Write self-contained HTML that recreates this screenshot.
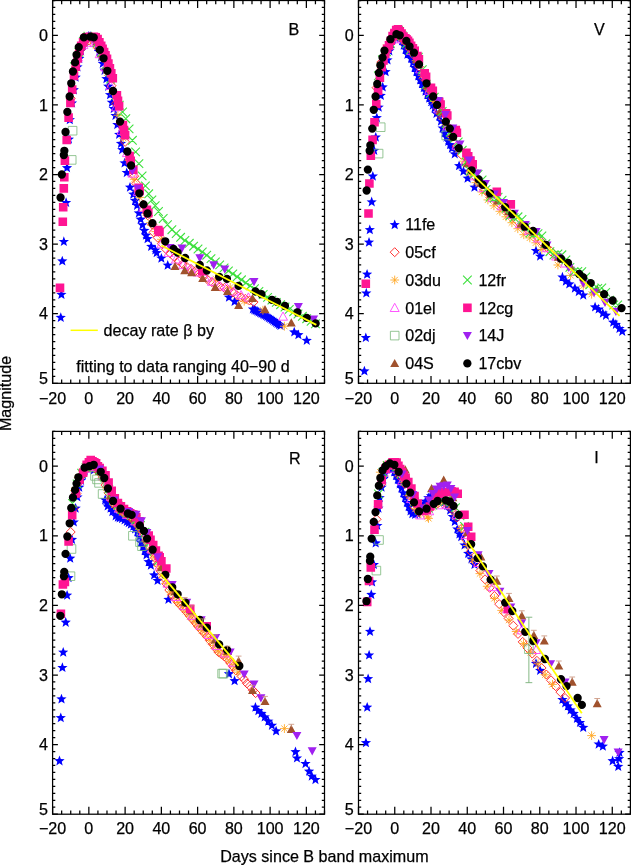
<!DOCTYPE html>
<html><head><meta charset="utf-8"><style>html,body{margin:0;padding:0;background:#fff;width:631px;height:865px;overflow:hidden}svg{display:block;will-change:transform}</style></head>
<body><svg width="631" height="865" viewBox="0 0 631 865"><clipPath id="cB"><rect x="52.60" y="0.50" width="271.90" height="382.80"/></clipPath>
<g clip-path="url(#cB)">
<path fill="#0000ff" d="M60.8,312.2 62.1,315.7 65.9,315.9 62.9,318.3 63.9,321.9 60.8,319.9 57.6,321.9 58.6,318.3 55.6,315.9 59.4,315.7ZM61.4,289.2 62.7,292.8 66.5,292.9 63.6,295.3 64.6,299.0 61.4,296.9 58.2,299.0 59.2,295.3 56.3,292.9 60.0,292.8ZM62.3,255.8 63.6,259.3 67.4,259.5 64.5,261.9 65.5,265.6 62.3,263.5 59.1,265.6 60.1,261.9 57.2,259.5 60.9,259.3ZM63.8,236.3 65.2,239.9 69.0,240.0 66.0,242.4 67.0,246.1 63.8,244.0 60.7,246.1 61.7,242.4 58.7,240.0 62.5,239.9ZM66.1,197.3 67.5,200.9 71.2,201.1 68.3,203.5 69.3,207.1 66.1,205.0 62.9,207.1 63.9,203.5 61.0,201.1 64.8,200.9ZM67.0,162.5 68.4,166.1 72.1,166.3 69.2,168.7 70.2,172.3 67.0,170.2 63.8,172.3 64.8,168.7 61.9,166.3 65.7,166.1ZM68.9,134.0 70.3,137.5 74.0,137.7 71.1,140.1 72.1,143.8 68.9,141.7 65.7,143.8 66.7,140.1 63.8,137.7 67.6,137.5ZM69.8,114.5 71.2,118.1 75.0,118.2 72.0,120.6 73.0,124.3 69.8,122.2 66.6,124.3 67.6,120.6 64.7,118.2 68.5,118.1ZM72.0,97.8 73.3,101.4 77.1,101.5 74.2,103.9 75.2,107.6 72.0,105.5 68.8,107.6 69.8,103.9 66.9,101.5 70.6,101.4ZM73.8,84.6 75.2,88.1 78.9,88.3 76.0,90.7 77.0,94.4 73.8,92.3 70.6,94.4 71.6,90.7 68.7,88.3 72.5,88.1ZM75.6,72.1 77.0,75.6 80.8,75.8 77.8,78.2 78.8,81.8 75.6,79.8 72.4,81.8 73.4,78.2 70.5,75.8 74.3,75.6ZM77.4,61.6 78.8,65.2 82.6,65.4 79.6,67.7 80.6,71.4 77.4,69.3 74.3,71.4 75.2,67.7 72.3,65.4 76.1,65.2ZM79.2,53.3 80.6,56.8 84.4,57.0 81.4,59.4 82.4,63.0 79.2,61.0 76.1,63.0 77.1,59.4 74.1,57.0 77.9,56.8ZM81.1,45.6 82.4,49.2 86.2,49.3 83.2,51.7 84.2,55.4 81.1,53.3 77.9,55.4 78.9,51.7 75.9,49.3 79.7,49.2ZM82.9,39.3 84.2,42.9 88.0,43.1 85.1,45.5 86.0,49.1 82.9,47.0 79.7,49.1 80.7,45.5 77.7,43.1 81.5,42.9ZM84.7,35.2 86.0,38.7 89.8,38.9 86.9,41.3 87.9,44.9 84.7,42.9 81.5,44.9 82.5,41.3 79.5,38.9 83.3,38.7ZM86.5,32.4 87.8,35.9 91.6,36.1 88.7,38.5 89.7,42.2 86.5,40.1 83.3,42.2 84.3,38.5 81.4,36.1 85.1,35.9ZM88.3,31.0 89.7,34.5 93.4,34.7 90.5,37.1 91.5,40.8 88.3,38.7 85.1,40.8 86.1,37.1 83.2,34.7 87.0,34.5ZM90.1,31.0 91.5,34.5 95.3,34.7 92.3,37.1 93.3,40.8 90.1,38.7 86.9,40.8 87.9,37.1 85.0,34.7 88.8,34.5ZM91.9,32.4 93.3,35.9 97.1,36.1 94.1,38.5 95.1,42.2 91.9,40.1 88.8,42.2 89.7,38.5 86.8,36.1 90.6,35.9ZM93.7,34.5 95.1,38.0 98.9,38.2 95.9,40.6 96.9,44.2 93.7,42.2 90.6,44.2 91.6,40.6 88.6,38.2 92.4,38.0ZM95.6,37.3 96.9,40.8 100.7,41.0 97.7,43.4 98.7,47.0 95.6,45.0 92.4,47.0 93.4,43.4 90.4,41.0 94.2,40.8ZM97.4,41.4 98.7,45.0 102.5,45.2 99.6,47.5 100.5,51.2 97.4,49.1 94.2,51.2 95.2,47.5 92.2,45.2 96.0,45.0ZM99.2,46.3 100.5,49.8 104.3,50.0 101.4,52.4 102.4,56.1 99.2,54.0 96.0,56.1 97.0,52.4 94.0,50.0 97.8,49.8ZM101.0,51.9 102.4,55.4 106.1,55.6 103.2,58.0 104.2,61.6 101.0,59.6 97.8,61.6 98.8,58.0 95.9,55.6 99.6,55.4ZM102.8,58.1 104.2,61.7 107.9,61.9 105.0,64.3 106.0,67.9 102.8,65.8 99.6,67.9 100.6,64.3 97.7,61.9 101.5,61.7ZM104.6,65.1 106.0,68.6 109.8,68.8 106.8,71.2 107.8,74.9 104.6,72.8 101.4,74.9 102.4,71.2 99.5,68.8 103.3,68.6ZM106.4,73.5 107.8,77.0 111.6,77.2 108.6,79.6 109.6,83.2 106.4,81.2 103.3,83.2 104.2,79.6 101.3,77.2 105.1,77.0ZM108.2,81.1 109.6,84.6 113.4,84.8 110.4,87.2 111.4,90.9 108.2,88.8 105.1,90.9 106.1,87.2 103.1,84.8 106.9,84.6ZM110.1,89.5 111.4,93.0 115.2,93.2 112.2,95.6 113.2,99.2 110.1,97.2 106.9,99.2 107.9,95.6 104.9,93.2 108.7,93.0ZM111.9,97.1 113.2,100.7 117.0,100.8 114.1,103.2 115.0,106.9 111.9,104.8 108.7,106.9 109.7,103.2 106.7,100.8 110.5,100.7ZM113.7,103.4 115.0,106.9 118.8,107.1 115.9,109.5 116.9,113.1 113.7,111.1 110.5,113.1 111.5,109.5 108.6,107.1 112.3,106.9ZM115.5,110.3 116.9,113.9 120.6,114.1 117.7,116.5 118.7,120.1 115.5,118.0 112.3,120.1 113.3,116.5 110.4,114.1 114.1,113.9ZM117.3,119.4 118.7,122.9 122.4,123.1 119.5,125.5 120.5,129.2 117.3,127.1 114.1,129.2 115.1,125.5 112.2,123.1 116.0,122.9ZM119.1,129.1 120.5,132.7 124.3,132.9 121.3,135.2 122.3,138.9 119.1,136.8 116.0,138.9 116.9,135.2 114.0,132.9 117.8,132.7ZM120.9,138.2 122.3,141.7 126.1,141.9 123.1,144.3 124.1,147.9 120.9,145.9 117.8,147.9 118.8,144.3 115.8,141.9 119.6,141.7ZM122.2,144.4 123.6,148.0 127.3,148.2 124.4,150.6 125.4,154.2 122.2,152.1 119.0,154.2 120.0,150.6 117.1,148.2 120.9,148.0ZM124.6,157.7 125.9,161.2 129.7,161.4 126.8,163.8 127.7,167.4 124.6,165.4 121.4,167.4 122.4,163.8 119.4,161.4 123.2,161.2ZM126.7,167.4 128.1,171.0 131.9,171.1 128.9,173.5 129.9,177.2 126.7,175.1 123.6,177.2 124.6,173.5 121.6,171.1 125.4,171.0ZM130.0,182.0 131.4,185.6 135.1,185.8 132.2,188.1 133.2,191.8 130.0,189.7 126.8,191.8 127.8,188.1 124.9,185.8 128.6,185.6ZM133.3,189.0 134.6,192.5 138.4,192.7 135.5,195.1 136.4,198.8 133.3,196.7 130.1,198.8 131.1,195.1 128.1,192.7 131.9,192.5ZM135.1,195.3 136.4,198.8 140.2,199.0 137.3,201.4 138.3,205.0 135.1,203.0 131.9,205.0 132.9,201.4 129.9,199.0 133.7,198.8ZM137.1,200.1 138.4,203.7 142.2,203.9 139.3,206.2 140.2,209.9 137.1,207.8 133.9,209.9 134.9,206.2 131.9,203.9 135.7,203.7ZM138.9,207.8 140.2,211.3 144.0,211.5 141.1,213.9 142.1,217.5 138.9,215.5 135.7,217.5 136.7,213.9 133.7,211.5 137.5,211.3ZM140.7,214.0 142.0,217.6 145.8,217.8 142.9,220.2 143.9,223.8 140.7,221.7 137.5,223.8 138.5,220.2 135.6,217.8 139.3,217.6ZM142.5,219.6 143.9,223.2 147.6,223.3 144.7,225.7 145.7,229.4 142.5,227.3 139.3,229.4 140.3,225.7 137.4,223.3 141.2,223.2ZM144.3,225.2 145.7,228.7 149.5,228.9 146.5,231.3 147.5,234.9 144.3,232.9 141.1,234.9 142.1,231.3 139.2,228.9 143.0,228.7ZM146.0,230.1 147.3,233.6 151.1,233.8 148.1,236.2 149.1,239.8 146.0,237.8 142.8,239.8 143.8,236.2 140.8,233.8 144.6,233.6ZM147.6,233.5 148.9,237.1 152.7,237.3 149.8,239.6 150.8,243.3 147.6,241.2 144.4,243.3 145.4,239.6 142.4,237.3 146.2,237.1ZM151.2,241.2 152.6,244.7 156.3,244.9 153.4,247.3 154.4,251.0 151.2,248.9 148.0,251.0 149.0,247.3 146.1,244.9 149.9,244.7ZM155.4,244.7 156.7,248.2 160.5,248.4 157.6,250.8 158.6,254.4 155.4,252.4 152.2,254.4 153.2,250.8 150.2,248.4 154.0,248.2ZM156.6,247.5 158.0,251.0 161.8,251.2 158.8,253.6 159.8,257.2 156.6,255.2 153.5,257.2 154.5,253.6 151.5,251.2 155.3,251.0ZM161.4,253.0 162.7,256.6 166.5,256.8 163.5,259.1 164.5,262.8 161.4,260.7 158.2,262.8 159.2,259.1 156.2,256.8 160.0,256.6ZM167.7,260.0 169.1,263.5 172.8,263.7 169.9,266.1 170.9,269.7 167.7,267.7 164.5,269.7 165.5,266.1 162.6,263.7 166.4,263.5ZM229.0,292.0 230.3,295.5 234.1,295.7 231.2,298.1 232.1,301.8 229.0,299.7 225.8,301.8 226.8,298.1 223.8,295.7 227.6,295.5ZM234.6,296.2 235.9,299.7 239.7,299.9 236.8,302.3 237.8,305.9 234.6,303.9 231.4,305.9 232.4,302.3 229.5,299.9 233.2,299.7ZM252.9,303.8 254.3,307.4 258.0,307.6 255.1,309.9 256.1,313.6 252.9,311.5 249.7,313.6 250.7,309.9 247.8,307.6 251.5,307.4ZM254.3,304.6 255.7,308.1 259.5,308.3 256.5,310.7 257.5,314.4 254.3,312.3 251.2,314.4 252.2,310.7 249.2,308.3 253.0,308.1ZM255.8,305.3 257.2,308.8 260.9,309.0 258.0,311.4 259.0,315.1 255.8,313.0 252.6,315.1 253.6,311.4 250.7,309.0 254.4,308.8ZM257.3,306.1 258.6,309.6 262.4,309.8 259.4,312.2 260.4,315.8 257.3,313.8 254.1,315.8 255.1,312.2 252.1,309.8 255.9,309.6ZM258.7,306.8 260.1,310.4 263.8,310.6 260.9,312.9 261.9,316.6 258.7,314.5 255.5,316.6 256.5,312.9 253.6,310.6 257.3,310.4ZM260.2,307.5 261.5,311.1 265.3,311.2 262.3,313.6 263.3,317.3 260.2,315.2 257.0,317.3 258.0,313.6 255.0,311.2 258.8,311.1ZM261.6,308.3 263.0,311.8 266.7,312.0 263.8,314.4 264.8,318.1 261.6,316.0 258.4,318.1 259.4,314.4 256.5,312.0 260.2,311.8ZM263.1,309.0 264.4,312.6 268.2,312.8 265.2,315.2 266.2,318.8 263.1,316.7 259.9,318.8 260.9,315.2 257.9,312.8 261.7,312.6ZM264.5,309.7 265.9,313.3 269.6,313.5 266.7,315.9 267.7,319.5 264.5,317.4 261.3,319.5 262.3,315.9 259.4,313.5 263.1,313.3ZM266.0,310.5 267.3,314.0 271.1,314.2 268.1,316.6 269.1,320.3 266.0,318.2 262.8,320.3 263.8,316.6 260.8,314.2 264.6,314.0ZM267.4,311.4 268.8,315.0 272.5,315.1 269.6,317.5 270.6,321.2 267.4,319.1 264.2,321.2 265.2,317.5 262.3,315.1 266.0,315.0ZM268.9,312.4 270.2,315.9 274.0,316.1 271.0,318.5 272.0,322.2 268.9,320.1 265.7,322.2 266.7,318.5 263.7,316.1 267.5,315.9ZM270.3,313.4 271.7,316.9 275.4,317.1 272.5,319.5 273.5,323.1 270.3,321.1 267.1,323.1 268.1,319.5 265.2,317.1 268.9,316.9ZM271.8,314.3 273.1,317.9 276.9,318.1 273.9,320.4 274.9,324.1 271.8,322.0 268.6,324.1 269.6,320.4 266.6,318.1 270.4,317.9ZM273.2,315.3 274.6,318.9 278.3,319.0 275.4,321.4 276.4,325.1 273.2,323.0 270.0,325.1 271.0,321.4 268.1,319.0 271.8,318.9ZM274.7,316.3 276.0,319.8 279.8,320.0 276.8,322.4 277.8,326.1 274.7,324.0 271.5,326.1 272.5,322.4 269.5,320.0 273.3,319.8ZM276.1,317.3 277.5,320.8 281.2,321.0 278.3,323.4 279.3,327.0 276.1,325.0 272.9,327.0 273.9,323.4 271.0,321.0 274.7,320.8ZM277.6,318.2 278.9,321.8 282.7,322.0 279.7,324.3 280.7,328.0 277.6,325.9 274.4,328.0 275.4,324.3 272.4,322.0 276.2,321.8ZM279.0,319.2 280.4,322.7 284.1,322.9 281.2,325.3 282.2,329.0 279.0,326.9 275.8,329.0 276.8,325.3 273.9,322.9 277.7,322.7ZM280.5,320.2 281.8,323.7 285.6,323.9 282.6,326.3 283.6,330.0 280.5,327.9 277.3,330.0 278.3,326.3 275.3,323.9 279.1,323.7ZM294.2,326.8 295.6,330.3 299.4,330.5 296.4,332.9 297.4,336.6 294.2,334.5 291.1,336.6 292.0,332.9 289.1,330.5 292.9,330.3ZM298.4,329.6 299.7,333.1 303.5,333.3 300.6,335.7 301.6,339.3 298.4,337.3 295.2,339.3 296.2,335.7 293.3,333.3 297.0,333.1ZM306.7,335.1 308.1,338.7 311.9,338.9 308.9,341.3 309.9,344.9 306.7,342.8 303.6,344.9 304.5,341.3 301.6,338.9 305.4,338.7Z"/>
<path fill="none" stroke="#ff2828" stroke-width="0.95" d="M70.7 93.8L75.2 98.3L70.7 102.8L66.2 98.3ZM75.3 64.5L79.8 69.0L75.3 73.5L70.8 69.0ZM79.8 45.9L84.3 50.4L79.8 54.9L75.3 50.4ZM84.3 37.3L88.8 41.8L84.3 46.3L79.8 41.8ZM88.9 35.9L93.4 40.4L88.9 44.9L84.4 40.4ZM93.4 36.1L97.9 40.6L93.4 45.1L88.9 40.6ZM97.9 43.0L102.4 47.5L97.9 52.0L93.4 47.5ZM102.4 52.6L106.9 57.1L102.4 61.6L97.9 57.1ZM107.0 65.4L111.5 69.9L107.0 74.4L102.5 69.9ZM111.5 81.2L116.0 85.7L111.5 90.2L107.0 85.7ZM116.0 98.9L120.5 103.4L116.0 107.9L111.5 103.4ZM120.6 118.8L125.1 123.3L120.6 127.8L116.1 123.3ZM125.1 137.4L129.6 141.9L125.1 146.4L120.6 141.9ZM129.6 155.6L134.1 160.1L129.6 164.6L125.1 160.1ZM134.2 171.7L138.7 176.2L134.2 180.7L129.7 176.2ZM138.7 186.9L143.2 191.4L138.7 195.9L134.2 191.4ZM143.2 200.1L147.7 204.6L143.2 209.1L138.7 204.6ZM147.8 210.8L152.3 215.3L147.8 219.8L143.3 215.3ZM152.3 220.0L156.8 224.5L152.3 229.0L147.8 224.5ZM136.3 179.0L140.8 183.5L136.3 188.0L131.8 183.5ZM153.6 227.8L158.1 232.3L153.6 236.8L149.1 232.3ZM157.7 233.1L162.2 237.6L157.7 242.1L153.2 237.6ZM161.9 239.2L166.4 243.7L161.9 248.2L157.4 243.7ZM166.1 244.8L170.6 249.3L166.1 253.8L161.6 249.3ZM170.2 248.8L174.7 253.3L170.2 257.8L165.7 253.3ZM174.4 252.7L178.9 257.2L174.4 261.7L169.9 257.2ZM178.6 256.3L183.1 260.8L178.6 265.3L174.1 260.8ZM182.7 259.6L187.2 264.1L182.7 268.6L178.2 264.1ZM186.9 262.4L191.4 266.9L186.9 271.4L182.4 266.9ZM191.1 264.5L195.6 269.0L191.1 273.5L186.6 269.0ZM195.3 266.6L199.8 271.1L195.3 275.6L190.8 271.1ZM199.4 268.8L203.9 273.3L199.4 277.8L194.9 273.3ZM203.6 272.1L208.1 276.6L203.6 281.1L199.1 276.6ZM207.8 275.4L212.3 279.9L207.8 284.4L203.3 279.9ZM211.9 277.7L216.4 282.2L211.9 286.7L207.4 282.2ZM216.1 280.0L220.6 284.5L216.1 289.0L211.6 284.5ZM220.3 282.1L224.8 286.6L220.3 291.1L215.8 286.6ZM224.4 283.4L228.9 287.9L224.4 292.4L219.9 287.9ZM228.6 285.3L233.1 289.8L228.6 294.3L224.1 289.8ZM232.8 288.0L237.3 292.5L232.8 297.0L228.3 292.5ZM236.9 290.7L241.4 295.2L236.9 299.7L232.4 295.2ZM241.1 292.8L245.6 297.3L241.1 301.8L236.6 297.3ZM245.3 294.4L249.8 298.9L245.3 303.4L240.8 298.9ZM249.5 296.0L254.0 300.5L249.5 305.0L245.0 300.5ZM253.6 297.5L258.1 302.0L253.6 306.5L249.1 302.0Z"/>
<path fill="none" stroke="#ffa520" stroke-width="0.85" d="M70.0 69.0h8.8M74.4 64.6v8.8M71.2 65.9l6.2 6.2M71.2 72.1l6.2 -6.2M75.4 48.7h8.8M79.8 44.3v8.8M76.7 45.6l6.2 6.2M76.7 51.8l6.2 -6.2M80.8 40.7h8.8M85.2 36.3v8.8M82.1 37.6l6.2 6.2M82.1 43.8l6.2 -6.2M86.3 40.2h8.8M90.7 35.8v8.8M87.6 37.1l6.2 6.2M87.6 43.3l6.2 -6.2M91.7 45.6h8.8M96.1 41.2v8.8M93.0 42.5l6.2 6.2M93.0 48.7l6.2 -6.2M97.1 57.1h8.8M101.5 52.7v8.8M98.4 54.0l6.2 6.2M98.4 60.2l6.2 -6.2M102.6 72.9h8.8M107.0 68.5v8.8M103.9 69.8l6.2 6.2M103.9 76.0l6.2 -6.2M108.0 92.1h8.8M112.4 87.7v8.8M109.3 89.0l6.2 6.2M109.3 95.2l6.2 -6.2M113.5 115.3h8.8M117.9 110.9v8.8M114.7 112.2l6.2 6.2M114.7 118.4l6.2 -6.2M118.9 138.2h8.8M123.3 133.8v8.8M120.2 135.1l6.2 6.2M120.2 141.3l6.2 -6.2M124.3 160.1h8.8M128.7 155.7v8.8M125.6 157.0l6.2 6.2M125.6 163.2l6.2 -6.2M129.8 179.3h8.8M134.2 174.9v8.8M131.1 176.2l6.2 6.2M131.1 182.4l6.2 -6.2M135.2 197.4h8.8M139.6 193.0v8.8M136.5 194.2l6.2 6.2M136.5 200.5l6.2 -6.2M140.6 211.2h8.8M145.0 206.8v8.8M141.9 208.1l6.2 6.2M141.9 214.3l6.2 -6.2M146.1 222.7h8.8M150.5 218.3v8.8M147.4 219.6l6.2 6.2M147.4 225.8l6.2 -6.2M151.5 231.6h8.8M155.9 227.2v8.8M152.8 228.5l6.2 6.2M152.8 234.7l6.2 -6.2M157.0 239.3h8.8M161.4 234.9v8.8M158.2 236.1l6.2 6.2M158.2 242.4l6.2 -6.2M211.3 278.9h8.8M215.7 274.5v8.8M212.6 275.8l6.2 6.2M212.6 282.0l6.2 -6.2M225.8 287.3h8.8M230.2 282.9v8.8M227.1 284.1l6.2 6.2M227.1 290.4l6.2 -6.2M239.8 301.2h8.8M244.2 296.8v8.8M241.1 298.1l6.2 6.2M241.1 304.3l6.2 -6.2M258.5 310.2h8.8M262.9 305.8v8.8M259.8 307.1l6.2 6.2M259.8 313.3l6.2 -6.2M280.0 326.2h8.8M284.4 321.8v8.8M281.3 323.1l6.2 6.2M281.3 329.3l6.2 -6.2"/>
<path fill="none" stroke="#ff44ff" stroke-width="0.9" d="M73.5 61.1L82.5 61.1L78.0 52.9ZM78.9 48.6L87.9 48.6L83.4 40.4ZM84.4 46.2L93.4 46.2L88.9 38.0ZM89.8 46.6L98.8 46.6L94.3 38.4ZM95.2 57.7L104.2 57.7L99.7 49.5ZM100.7 70.9L109.7 70.9L105.2 62.7ZM106.1 89.5L115.1 89.5L110.6 81.3ZM111.5 110.8L120.5 110.8L116.0 102.6ZM117.0 134.4L126.0 134.4L121.5 126.2ZM122.4 156.6L131.4 156.6L126.9 148.4ZM127.9 177.1L136.9 177.1L132.4 168.9ZM133.3 195.4L142.3 195.4L137.8 187.2ZM138.7 211.3L147.7 211.3L143.2 203.1ZM156.9 247.8L165.9 247.8L161.4 239.6ZM164.1 256.4L173.1 256.4L168.6 248.2ZM171.4 263.0L180.4 263.0L175.9 254.8ZM178.6 268.6L187.6 268.6L183.1 260.4ZM185.9 272.6L194.9 272.6L190.4 264.4ZM193.1 276.0L202.1 276.0L197.6 267.8ZM200.4 281.0L209.4 281.0L204.9 272.8ZM207.6 285.3L216.6 285.3L212.1 277.1ZM214.9 288.9L223.9 288.9L219.4 280.7ZM222.1 290.8L231.1 290.8L226.6 282.6ZM229.4 295.1L238.4 295.1L233.9 286.9ZM236.6 298.7L245.6 298.7L241.1 290.5ZM243.9 301.1L252.9 301.1L248.4 292.9ZM278.5 320.2L287.5 320.2L283.0 312.0Z"/>
<path fill="none" stroke="#7ab87a" stroke-width="0.8" d="M67.4 155.6h8.6v8.6h-8.6ZM68.3 126.4h8.6v8.6h-8.6Z"/>
<path fill="#a0522d" d="M170.5 270.1L179.5 270.1L175.0 261.9ZM180.2 274.2L189.2 274.2L184.7 266.0ZM187.1 276.3L196.1 276.3L191.6 268.1ZM198.2 281.9L207.2 281.9L202.7 273.7ZM210.7 290.9L219.7 290.9L215.2 282.7ZM223.0 295.1L232.0 295.1L227.5 286.9ZM234.1 309.0L243.1 309.0L238.6 300.8ZM248.0 302.1L257.0 302.1L252.5 293.9ZM260.5 313.2L269.5 313.2L265.0 305.0ZM286.8 326.4L295.8 326.4L291.3 318.2Z"/>
<path fill="none" stroke="#3ee03e" stroke-width="1.1" d="M70.1 62.3l8.6 8.6M70.1 70.9l8.6 -8.6M74.6 48.0l8.6 8.6M74.6 56.6l8.6 -8.6M79.1 37.3l8.6 8.6M79.1 45.9l8.6 -8.6M83.6 32.0l8.6 8.6M83.6 40.6l8.6 -8.6M88.2 33.8l8.6 8.6M88.2 42.4l8.6 -8.6M92.7 38.5l8.6 8.6M92.7 47.1l8.6 -8.6M97.2 48.1l8.6 8.6M97.2 56.7l8.6 -8.6M101.8 60.6l8.6 8.6M101.8 69.2l8.6 -8.6M106.3 74.8l8.6 8.6M106.3 83.4l8.6 -8.6M111.7 91.3l8.6 8.6M111.7 99.9l8.6 -8.6M115.0 100.9l8.6 8.6M115.0 109.5l8.6 -8.6M118.3 107.7l8.6 8.6M118.3 116.3l8.6 -8.6M121.5 114.4l8.6 8.6M121.5 123.0l8.6 -8.6M124.8 124.6l8.6 8.6M124.8 133.2l8.6 -8.6M128.1 136.0l8.6 8.6M128.1 144.6l8.6 -8.6M131.3 147.6l8.6 8.6M131.3 156.2l8.6 -8.6M134.6 159.3l8.6 8.6M134.6 167.9l8.6 -8.6M137.8 171.6l8.6 8.6M137.8 180.2l8.6 -8.6M141.1 181.6l8.6 8.6M141.1 190.2l8.6 -8.6M144.4 189.5l8.6 8.6M144.4 198.1l8.6 -8.6M147.6 195.6l8.6 8.6M147.6 204.2l8.6 -8.6M150.9 201.4l8.6 8.6M150.9 210.0l8.6 -8.6M154.2 207.2l8.6 8.6M154.2 215.8l8.6 -8.6M158.9 214.2l8.6 8.6M158.9 222.8l8.6 -8.6M163.2 220.3l8.6 8.6M163.2 228.9l8.6 -8.6M167.6 225.4l8.6 8.6M167.6 234.0l8.6 -8.6M171.9 229.2l8.6 8.6M171.9 237.8l8.6 -8.6M176.3 233.0l8.6 8.6M176.3 241.6l8.6 -8.6M180.6 236.2l8.6 8.6M180.6 244.8l8.6 -8.6M185.0 239.0l8.6 8.6M185.0 247.6l8.6 -8.6M189.3 241.9l8.6 8.6M189.3 250.5l8.6 -8.6M193.7 244.7l8.6 8.6M193.7 253.3l8.6 -8.6M198.0 247.6l8.6 8.6M198.0 256.2l8.6 -8.6M202.4 250.9l8.6 8.6M202.4 259.5l8.6 -8.6M206.7 254.3l8.6 8.6M206.7 262.9l8.6 -8.6M211.1 257.6l8.6 8.6M211.1 266.2l8.6 -8.6M215.4 260.6l8.6 8.6M215.4 269.2l8.6 -8.6M219.8 263.6l8.6 8.6M219.8 272.2l8.6 -8.6M224.1 266.6l8.6 8.6M224.1 275.2l8.6 -8.6M228.5 269.6l8.6 8.6M228.5 278.2l8.6 -8.6M232.8 272.5l8.6 8.6M232.8 281.1l8.6 -8.6M237.2 275.5l8.6 8.6M237.2 284.1l8.6 -8.6M241.5 278.5l8.6 8.6M241.5 287.1l8.6 -8.6M245.9 281.4l8.6 8.6M245.9 290.0l8.6 -8.6M250.2 284.3l8.6 8.6M250.2 292.9l8.6 -8.6M254.6 287.2l8.6 8.6M254.6 295.8l8.6 -8.6M258.9 290.2l8.6 8.6M258.9 298.8l8.6 -8.6M263.3 293.1l8.6 8.6M263.3 301.7l8.6 -8.6M267.6 295.8l8.6 8.6M267.6 304.4l8.6 -8.6M272.0 298.1l8.6 8.6M272.0 306.7l8.6 -8.6M276.3 300.4l8.6 8.6M276.3 309.0l8.6 -8.6M280.7 302.7l8.6 8.6M280.7 311.3l8.6 -8.6M285.0 305.1l8.6 8.6M285.0 313.7l8.6 -8.6M289.4 307.4l8.6 8.6M289.4 316.0l8.6 -8.6M293.7 309.7l8.6 8.6M293.7 318.3l8.6 -8.6M298.1 312.0l8.6 8.6M298.1 320.6l8.6 -8.6M302.4 314.4l8.6 8.6M302.4 323.0l8.6 -8.6M306.8 317.0l8.6 8.6M306.8 325.6l8.6 -8.6M311.1 319.5l8.6 8.6M311.1 328.1l8.6 -8.6"/>
<path fill="#ff1493" d="M55.7 283.6h8.6v8.6h-8.6ZM58.5 217.5h8.6v8.6h-8.6ZM58.9 202.9h8.6v8.6h-8.6ZM59.5 184.1h8.6v8.6h-8.6ZM60.0 173.0h8.6v8.6h-8.6ZM60.6 156.3h8.6v8.6h-8.6ZM62.4 135.7h8.6v8.6h-8.6ZM64.3 113.3h8.6v8.6h-8.6ZM66.1 98.6h8.6v8.6h-8.6ZM67.9 85.3h8.6v8.6h-8.6ZM69.7 71.7h8.6v8.6h-8.6ZM71.5 62.3h8.6v8.6h-8.6ZM73.3 54.1h8.6v8.6h-8.6ZM75.1 46.7h8.6v8.6h-8.6ZM76.9 41.5h8.6v8.6h-8.6ZM78.8 38.1h8.6v8.6h-8.6ZM80.6 34.6h8.6v8.6h-8.6ZM82.4 33.0h8.6v8.6h-8.6ZM84.2 32.8h8.6v8.6h-8.6ZM86.0 32.6h8.6v8.6h-8.6ZM87.8 32.5h8.6v8.6h-8.6ZM89.6 32.6h8.6v8.6h-8.6ZM91.4 32.9h8.6v8.6h-8.6ZM93.3 34.7h8.6v8.6h-8.6ZM95.1 37.9h8.6v8.6h-8.6ZM96.9 41.6h8.6v8.6h-8.6ZM98.3 44.5h8.6v8.6h-8.6ZM99.8 47.7h8.6v8.6h-8.6ZM101.2 51.0h8.6v8.6h-8.6ZM102.7 54.4h8.6v8.6h-8.6ZM104.1 59.2h8.6v8.6h-8.6ZM105.6 63.9h8.6v8.6h-8.6ZM107.0 68.9h8.6v8.6h-8.6ZM108.5 74.0h8.6v8.6h-8.6ZM112.6 91.0h8.6v8.6h-8.6ZM113.7 96.5h8.6v8.6h-8.6ZM114.8 101.9h8.6v8.6h-8.6ZM118.6 120.7h8.6v8.6h-8.6ZM119.7 125.8h8.6v8.6h-8.6ZM120.8 130.9h8.6v8.6h-8.6ZM125.3 151.8h8.6v8.6h-8.6ZM126.4 156.4h8.6v8.6h-8.6ZM129.0 165.4h8.6v8.6h-8.6ZM134.4 183.6h8.6v8.6h-8.6ZM135.3 186.7h8.6v8.6h-8.6ZM142.6 205.5h8.6v8.6h-8.6ZM144.0 208.8h8.6v8.6h-8.6ZM154.0 225.8h8.6v8.6h-8.6ZM155.2 227.6h8.6v8.6h-8.6ZM198.0 266.9h8.6v8.6h-8.6Z"/>
<path fill="#a020f0" d="M127.9 167.3L136.9 167.3L132.4 175.5ZM133.3 184.7L142.3 184.7L137.8 192.9ZM165.6 243.9L174.6 243.9L170.1 252.1ZM177.5 244.6L186.5 244.6L182.0 252.8ZM195.3 254.3L204.3 254.3L199.8 262.5ZM209.2 261.3L218.2 261.3L213.7 269.5ZM220.3 265.5L229.3 265.5L224.8 273.7ZM249.5 278.0L258.5 278.0L254.0 286.2ZM293.9 303.1L302.9 303.1L298.4 311.3ZM309.1 315.6L318.1 315.6L313.6 323.8Z"/>
<path fill="#000000" d="M56.4 197.5a4.15 4.15 0 1 0 8.30 0a4.15 4.15 0 1 0 -8.30 0ZM57.7 174.5a4.15 4.15 0 1 0 8.30 0a4.15 4.15 0 1 0 -8.30 0ZM59.7 155.0a4.15 4.15 0 1 0 8.30 0a4.15 4.15 0 1 0 -8.30 0ZM60.2 150.8a4.15 4.15 0 1 0 8.30 0a4.15 4.15 0 1 0 -8.30 0ZM61.4 132.0a4.15 4.15 0 1 0 8.30 0a4.15 4.15 0 1 0 -8.30 0ZM63.2 111.9a4.15 4.15 0 1 0 8.30 0a4.15 4.15 0 1 0 -8.30 0ZM65.5 96.5a4.15 4.15 0 1 0 8.30 0a4.15 4.15 0 1 0 -8.30 0ZM67.1 83.3a4.15 4.15 0 1 0 8.30 0a4.15 4.15 0 1 0 -8.30 0ZM68.8 71.5a4.15 4.15 0 1 0 8.30 0a4.15 4.15 0 1 0 -8.30 0ZM70.9 62.4a4.15 4.15 0 1 0 8.30 0a4.15 4.15 0 1 0 -8.30 0ZM72.4 54.8a4.15 4.15 0 1 0 8.30 0a4.15 4.15 0 1 0 -8.30 0ZM74.6 47.1a4.15 4.15 0 1 0 8.30 0a4.15 4.15 0 1 0 -8.30 0ZM79.7 37.4a4.15 4.15 0 1 0 8.30 0a4.15 4.15 0 1 0 -8.30 0ZM86.3 36.7a4.15 4.15 0 1 0 8.30 0a4.15 4.15 0 1 0 -8.30 0ZM89.6 37.4a4.15 4.15 0 1 0 8.30 0a4.15 4.15 0 1 0 -8.30 0ZM95.7 49.9a4.15 4.15 0 1 0 8.30 0a4.15 4.15 0 1 0 -8.30 0ZM99.4 58.3a4.15 4.15 0 1 0 8.30 0a4.15 4.15 0 1 0 -8.30 0ZM103.2 70.8a4.15 4.15 0 1 0 8.30 0a4.15 4.15 0 1 0 -8.30 0ZM108.9 91.0a4.15 4.15 0 1 0 8.30 0a4.15 4.15 0 1 0 -8.30 0ZM115.9 121.6a4.15 4.15 0 1 0 8.30 0a4.15 4.15 0 1 0 -8.30 0ZM123.2 151.5a4.15 4.15 0 1 0 8.30 0a4.15 4.15 0 1 0 -8.30 0ZM126.9 165.5a4.15 4.15 0 1 0 8.30 0a4.15 4.15 0 1 0 -8.30 0ZM135.2 193.3a4.15 4.15 0 1 0 8.30 0a4.15 4.15 0 1 0 -8.30 0ZM139.4 204.4a4.15 4.15 0 1 0 8.30 0a4.15 4.15 0 1 0 -8.30 0ZM143.4 213.5a4.15 4.15 0 1 0 8.30 0a4.15 4.15 0 1 0 -8.30 0ZM148.3 223.2a4.15 4.15 0 1 0 8.30 0a4.15 4.15 0 1 0 -8.30 0ZM161.1 241.3a4.15 4.15 0 1 0 8.30 0a4.15 4.15 0 1 0 -8.30 0ZM169.4 249.0a4.15 4.15 0 1 0 8.30 0a4.15 4.15 0 1 0 -8.30 0ZM173.5 252.5a4.15 4.15 0 1 0 8.30 0a4.15 4.15 0 1 0 -8.30 0ZM181.0 258.0a4.15 4.15 0 1 0 8.30 0a4.15 4.15 0 1 0 -8.30 0ZM195.6 265.0a4.15 4.15 0 1 0 8.30 0a4.15 4.15 0 1 0 -8.30 0ZM202.7 270.5a4.15 4.15 0 1 0 8.30 0a4.15 4.15 0 1 0 -8.30 0ZM215.0 276.8a4.15 4.15 0 1 0 8.30 0a4.15 4.15 0 1 0 -8.30 0ZM222.8 278.9a4.15 4.15 0 1 0 8.30 0a4.15 4.15 0 1 0 -8.30 0ZM234.4 285.9a4.15 4.15 0 1 0 8.30 0a4.15 4.15 0 1 0 -8.30 0ZM251.3 291.4a4.15 4.15 0 1 0 8.30 0a4.15 4.15 0 1 0 -8.30 0ZM257.3 294.2a4.15 4.15 0 1 0 8.30 0a4.15 4.15 0 1 0 -8.30 0ZM267.8 299.8a4.15 4.15 0 1 0 8.30 0a4.15 4.15 0 1 0 -8.30 0ZM272.9 301.9a4.15 4.15 0 1 0 8.30 0a4.15 4.15 0 1 0 -8.30 0ZM280.8 306.0a4.15 4.15 0 1 0 8.30 0a4.15 4.15 0 1 0 -8.30 0ZM293.3 312.3a4.15 4.15 0 1 0 8.30 0a4.15 4.15 0 1 0 -8.30 0ZM302.6 317.9a4.15 4.15 0 1 0 8.30 0a4.15 4.15 0 1 0 -8.30 0ZM311.5 323.4a4.15 4.15 0 1 0 8.30 0a4.15 4.15 0 1 0 -8.30 0Z"/>
<line x1="161.36" y1="245.49" x2="316.34" y2="324.84" stroke="#ffff00" stroke-width="1.8"/>
</g>
<clipPath id="cV"><rect x="358.50" y="0.50" width="271.90" height="382.80"/></clipPath>
<g clip-path="url(#cV)">
<path fill="#0000ff" d="M364.4,365.8 365.7,369.3 369.5,369.5 366.6,371.9 367.6,375.5 364.4,373.5 361.2,375.5 362.2,371.9 359.3,369.5 363.0,369.3ZM365.8,332.4 367.2,335.9 370.9,336.1 368.0,338.5 369.0,342.1 365.8,340.1 362.6,342.1 363.6,338.5 360.7,336.1 364.5,335.9ZM366.3,287.8 367.6,291.4 371.4,291.6 368.5,293.9 369.5,297.6 366.3,295.5 363.1,297.6 364.1,293.9 361.2,291.6 364.9,291.4ZM367.1,269.0 368.4,272.6 372.2,272.8 369.3,275.1 370.3,278.8 367.1,276.7 363.9,278.8 364.9,275.1 362.0,272.8 365.7,272.6ZM369.0,237.0 370.4,240.6 374.1,240.7 371.2,243.1 372.2,246.8 369.0,244.7 365.8,246.8 366.8,243.1 363.9,240.7 367.7,240.6ZM369.8,224.5 371.1,228.0 374.9,228.2 372.0,230.6 373.0,234.3 369.8,232.2 366.6,234.3 367.6,230.6 364.7,228.2 368.4,228.0ZM371.7,196.6 373.0,200.2 376.8,200.4 373.9,202.8 374.9,206.4 371.7,204.3 368.5,206.4 369.5,202.8 366.6,200.4 370.3,200.2ZM372.8,170.9 374.2,174.4 378.0,174.6 375.0,177.0 376.0,180.7 372.8,178.6 369.6,180.7 370.6,177.0 367.7,174.6 371.5,174.4ZM374.2,145.1 375.5,148.7 379.3,148.9 376.4,151.3 377.4,154.9 374.2,152.8 371.0,154.9 372.0,151.3 369.1,148.9 372.8,148.7ZM375.8,131.9 377.1,135.5 380.9,135.6 378.0,138.0 379.0,141.7 375.8,139.6 372.6,141.7 373.6,138.0 370.7,135.6 374.4,135.5ZM376.8,112.4 378.2,116.0 381.9,116.2 379.0,118.5 380.0,122.2 376.8,120.1 373.6,122.2 374.6,118.5 371.7,116.2 375.5,116.0ZM378.7,102.0 380.0,105.5 383.8,105.7 380.9,108.1 381.9,111.8 378.7,109.7 375.5,111.8 376.5,108.1 373.6,105.7 377.3,105.5ZM380.8,90.2 382.1,93.7 385.9,93.9 383.0,96.3 384.0,99.9 380.8,97.9 377.6,99.9 378.6,96.3 375.7,93.9 379.4,93.7ZM382.7,81.8 384.1,85.3 387.8,85.5 384.9,87.9 385.9,91.6 382.7,89.5 379.5,91.6 380.5,87.9 377.6,85.5 381.3,85.3ZM385.6,66.5 387.0,70.0 390.7,70.2 387.8,72.6 388.8,76.3 385.6,74.2 382.4,76.3 383.4,72.6 380.5,70.2 384.2,70.0ZM387.5,54.7 388.9,58.2 392.6,58.4 389.7,60.8 390.7,64.4 387.5,62.4 384.3,64.4 385.3,60.8 382.4,58.4 386.2,58.2ZM389.3,45.6 390.7,49.2 394.5,49.3 391.5,51.7 392.5,55.4 389.3,53.3 386.1,55.4 387.1,51.7 384.2,49.3 388.0,49.2ZM391.1,38.7 392.5,42.2 396.3,42.4 393.3,44.8 394.3,48.4 391.1,46.4 388.0,48.4 388.9,44.8 386.0,42.4 389.8,42.2ZM392.9,33.8 394.3,37.3 398.1,37.5 395.1,39.9 396.1,43.5 392.9,41.5 389.8,43.5 390.8,39.9 387.8,37.5 391.6,37.3ZM394.8,31.7 396.1,35.2 399.9,35.4 396.9,37.8 397.9,41.5 394.8,39.4 391.6,41.5 392.6,37.8 389.6,35.4 393.4,35.2ZM396.6,30.3 397.9,33.8 401.7,34.0 398.8,36.4 399.7,40.1 396.6,38.0 393.4,40.1 394.4,36.4 391.4,34.0 395.2,33.8ZM398.4,31.0 399.7,34.5 403.5,34.7 400.6,37.1 401.6,40.8 398.4,38.7 395.2,40.8 396.2,37.1 393.2,34.7 397.0,34.5ZM400.2,33.1 401.5,36.6 405.3,36.8 402.4,39.2 403.4,42.9 400.2,40.8 397.0,42.9 398.0,39.2 395.1,36.8 398.8,36.6ZM402.0,35.9 403.4,39.4 407.1,39.6 404.2,42.0 405.2,45.6 402.0,43.6 398.8,45.6 399.8,42.0 396.9,39.6 400.7,39.4ZM403.8,40.0 405.2,43.6 409.0,43.8 406.0,46.2 407.0,49.8 403.8,47.7 400.6,49.8 401.6,46.2 398.7,43.8 402.5,43.6ZM405.6,44.2 407.0,47.8 410.8,48.0 407.8,50.3 408.8,54.0 405.6,51.9 402.5,54.0 403.4,50.3 400.5,48.0 404.3,47.8ZM407.4,49.1 408.8,52.6 412.6,52.8 409.6,55.2 410.6,58.9 407.4,56.8 404.3,58.9 405.3,55.2 402.3,52.8 406.1,52.6ZM409.3,48.4 410.6,51.9 414.4,52.1 411.4,54.5 412.4,58.2 409.3,56.1 406.1,58.2 407.1,54.5 404.1,52.1 407.9,51.9ZM411.1,53.3 412.4,56.8 416.2,57.0 413.3,59.4 414.2,63.0 411.1,61.0 407.9,63.0 408.9,59.4 405.9,57.0 409.7,56.8ZM412.9,57.4 414.2,61.0 418.0,61.2 415.1,63.6 416.1,67.2 412.9,65.1 409.7,67.2 410.7,63.6 407.7,61.2 411.5,61.0ZM414.7,62.3 416.0,65.9 419.8,66.0 416.9,68.4 417.9,72.1 414.7,70.0 411.5,72.1 412.5,68.4 409.6,66.0 413.3,65.9ZM416.5,66.5 417.9,70.0 421.6,70.2 418.7,72.6 419.7,76.3 416.5,74.2 413.3,76.3 414.3,72.6 411.4,70.2 415.2,70.0ZM418.3,70.7 419.7,74.2 423.5,74.4 420.5,76.8 421.5,80.4 418.3,78.4 415.1,80.4 416.1,76.8 413.2,74.4 417.0,74.2ZM420.1,74.8 421.5,78.4 425.3,78.6 422.3,81.0 423.3,84.6 420.1,82.5 417.0,84.6 417.9,81.0 415.0,78.6 418.8,78.4ZM421.9,78.3 423.3,81.9 427.1,82.1 424.1,84.4 425.1,88.1 421.9,86.0 418.8,88.1 419.8,84.4 416.8,82.1 420.6,81.9ZM423.8,82.5 425.1,86.0 428.9,86.2 425.9,88.6 426.9,92.3 423.8,90.2 420.6,92.3 421.6,88.6 418.6,86.2 422.4,86.0ZM425.6,86.0 426.9,89.5 430.7,89.7 427.8,92.1 428.7,95.7 425.6,93.7 422.4,95.7 423.4,92.1 420.4,89.7 424.2,89.5ZM427.4,89.5 428.7,93.0 432.5,93.2 429.6,95.6 430.6,99.2 427.4,97.2 424.2,99.2 425.2,95.6 422.2,93.2 426.0,93.0ZM429.2,92.9 430.5,96.5 434.3,96.7 431.4,99.1 432.4,102.7 429.2,100.6 426.0,102.7 427.0,99.1 424.1,96.7 427.8,96.5ZM431.0,96.4 432.4,100.0 436.1,100.2 433.2,102.5 434.2,106.2 431.0,104.1 427.8,106.2 428.8,102.5 425.9,100.2 429.7,100.0ZM432.8,99.9 434.2,103.4 438.0,103.6 435.0,106.0 436.0,109.7 432.8,107.6 429.6,109.7 430.6,106.0 427.7,103.6 431.5,103.4ZM434.6,102.7 436.0,106.2 439.8,106.4 436.8,108.8 437.8,112.5 434.6,110.4 431.5,112.5 432.4,108.8 429.5,106.4 433.3,106.2ZM436.4,108.3 437.8,111.8 441.6,112.0 438.6,114.4 439.6,118.0 436.4,116.0 433.3,118.0 434.3,114.4 431.3,112.0 435.1,111.8ZM439.3,111.0 440.7,114.6 444.5,114.8 441.5,117.1 442.5,120.8 439.3,118.7 436.2,120.8 437.2,117.1 434.2,114.8 438.0,114.6ZM441.0,115.9 442.3,119.4 446.1,119.6 443.2,122.0 444.2,125.7 441.0,123.6 437.8,125.7 438.8,122.0 435.8,119.6 439.6,119.4ZM442.6,122.9 444.0,126.4 447.7,126.6 444.8,129.0 445.8,132.6 442.6,130.6 439.4,132.6 440.4,129.0 437.5,126.6 441.3,126.4ZM444.6,127.7 446.0,131.3 449.7,131.5 446.8,133.9 447.8,137.5 444.6,135.4 441.4,137.5 442.4,133.9 439.5,131.5 443.2,131.3ZM446.4,131.9 447.8,135.5 451.6,135.6 448.6,138.0 449.6,141.7 446.4,139.6 443.2,141.7 444.2,138.0 441.3,135.6 445.1,135.5ZM448.2,136.1 449.6,139.6 453.4,139.8 450.4,142.2 451.4,145.9 448.2,143.8 445.1,145.9 446.0,142.2 443.1,139.8 446.9,139.6ZM450.0,139.6 451.4,143.1 455.2,143.3 452.2,145.7 453.2,149.3 450.0,147.3 446.9,149.3 447.9,145.7 444.9,143.3 448.7,143.1ZM451.9,143.1 453.2,146.6 457.0,146.8 454.0,149.2 455.0,152.8 451.9,150.8 448.7,152.8 449.7,149.2 446.7,146.8 450.5,146.6ZM454.8,148.6 456.1,152.2 459.9,152.4 456.9,154.7 457.9,158.4 454.8,156.3 451.6,158.4 452.6,154.7 449.6,152.4 453.4,152.2ZM459.1,160.5 460.5,164.0 464.2,164.2 461.3,166.6 462.3,170.2 459.1,168.2 455.9,170.2 456.9,166.6 454.0,164.2 457.8,164.0ZM463.5,166.0 464.8,169.6 468.6,169.8 465.6,172.1 466.6,175.8 463.5,173.7 460.3,175.8 461.3,172.1 458.3,169.8 462.1,169.6ZM467.6,173.0 469.0,176.5 472.8,176.7 469.8,179.1 470.8,182.7 467.6,180.7 464.4,182.7 465.4,179.1 462.5,176.7 466.3,176.5ZM474.5,182.0 475.9,185.6 479.6,185.8 476.7,188.1 477.7,191.8 474.5,189.7 471.3,191.8 472.3,188.1 469.4,185.8 473.2,185.6ZM536.0,245.4 537.3,248.9 541.1,249.1 538.1,251.5 539.1,255.1 536.0,253.1 532.8,255.1 533.8,251.5 530.8,249.1 534.6,248.9ZM540.1,250.9 541.5,254.5 545.3,254.7 542.3,257.0 543.3,260.7 540.1,258.6 537.0,260.7 537.9,257.0 535.0,254.7 538.8,254.5ZM562.4,271.8 563.8,275.4 567.6,275.5 564.6,277.9 565.6,281.6 562.4,279.5 559.3,281.6 560.2,277.9 557.3,275.5 561.1,275.4ZM565.9,276.0 567.2,279.5 571.0,279.7 568.1,282.1 569.0,285.8 565.9,283.7 562.7,285.8 563.7,282.1 560.7,279.7 564.5,279.5ZM569.3,278.8 570.7,282.3 574.4,282.5 571.5,284.9 572.5,288.5 569.3,286.5 566.1,288.5 567.1,284.9 564.2,282.5 568.0,282.3ZM574.9,282.9 576.3,286.5 580.1,286.7 577.1,289.1 578.1,292.7 574.9,290.6 571.8,292.7 572.7,289.1 569.8,286.7 573.6,286.5ZM578.7,286.4 580.1,290.0 583.9,290.2 580.9,292.5 581.9,296.2 578.7,294.1 575.6,296.2 576.6,292.5 573.6,290.2 577.4,290.0ZM583.3,289.9 584.6,293.4 588.4,293.6 585.5,296.0 586.4,299.7 583.3,297.6 580.1,299.7 581.1,296.0 578.1,293.6 581.9,293.4ZM595.1,301.7 596.4,305.3 600.2,305.5 597.2,307.9 598.2,311.5 595.1,309.4 591.9,311.5 592.9,307.9 589.9,305.5 593.7,305.3ZM598.7,303.8 600.0,307.4 603.8,307.6 600.9,309.9 601.9,313.6 598.7,311.5 595.5,313.6 596.5,309.9 593.5,307.6 597.3,307.4ZM602.8,308.0 604.2,311.5 608.0,311.7 605.0,314.1 606.0,317.8 602.8,315.7 599.7,317.8 600.7,314.1 597.7,311.7 601.5,311.5ZM605.9,310.1 607.3,313.6 611.1,313.8 608.1,316.2 609.1,319.9 605.9,317.8 602.8,319.9 603.7,316.2 600.8,313.8 604.6,313.6ZM613.2,317.1 614.5,320.6 618.3,320.8 615.4,323.2 616.4,326.8 613.2,324.8 610.0,326.8 611.0,323.2 608.0,320.8 611.8,320.6ZM615.9,319.1 617.3,322.7 621.0,322.9 618.1,325.3 619.1,328.9 615.9,326.8 612.7,328.9 613.7,325.3 610.8,322.9 614.5,322.7ZM619.5,323.3 620.9,326.9 624.7,327.0 621.7,329.4 622.7,333.1 619.5,331.0 616.3,333.1 617.3,329.4 614.4,327.0 618.2,326.9ZM622.2,326.1 623.6,329.6 627.4,329.8 624.4,332.2 625.4,335.9 622.2,333.8 619.1,335.9 620.1,332.2 617.1,329.8 620.9,329.6Z"/>
<path fill="none" stroke="#ff2828" stroke-width="0.95" d="M376.6 83.2L381.1 87.7L376.6 92.2L372.1 87.7ZM381.3 57.6L385.8 62.1L381.3 66.6L376.8 62.1ZM386.1 43.7L390.6 48.2L386.1 52.7L381.6 48.2ZM390.8 35.6L395.3 40.1L390.8 44.6L386.3 40.1ZM395.5 31.6L400.0 36.1L395.5 40.6L391.0 36.1ZM400.2 32.8L404.7 37.3L400.2 41.8L395.7 37.3ZM404.9 36.8L409.4 41.3L404.9 45.8L400.4 41.3ZM409.6 43.9L414.1 48.4L409.6 52.9L405.1 48.4ZM414.3 51.2L418.8 55.7L414.3 60.2L409.8 55.7ZM419.0 62.2L423.5 66.7L419.0 71.2L414.5 66.7ZM423.8 74.0L428.3 78.5L423.8 83.0L419.3 78.5ZM428.5 84.7L433.0 89.2L428.5 93.7L424.0 89.2ZM433.2 94.2L437.7 98.7L433.2 103.2L428.7 98.7ZM437.9 104.0L442.4 108.5L437.9 113.0L433.4 108.5ZM442.6 113.0L447.1 117.5L442.6 122.0L438.1 117.5ZM447.3 121.7L451.8 126.2L447.3 130.7L442.8 126.2ZM452.0 132.0L456.5 136.5L452.0 141.0L447.5 136.5ZM456.7 141.7L461.2 146.2L456.7 150.7L452.2 146.2ZM461.5 150.3L466.0 154.8L461.5 159.3L457.0 154.8ZM466.2 158.4L470.7 162.9L466.2 167.4L461.7 162.9ZM470.9 166.6L475.4 171.1L470.9 175.6L466.4 171.1ZM475.6 172.8L480.1 177.3L475.6 181.8L471.1 177.3ZM480.3 178.9L484.8 183.4L480.3 187.9L475.8 183.4ZM485.0 184.8L489.5 189.3L485.0 193.8L480.5 189.3ZM489.7 190.3L494.2 194.8L489.7 199.3L485.2 194.8ZM494.4 194.7L498.9 199.2L494.4 203.7L489.9 199.2ZM499.2 199.0L503.7 203.5L499.2 208.0L494.7 203.5ZM503.9 203.3L508.4 207.8L503.9 212.3L499.4 207.8ZM508.6 207.9L513.1 212.4L508.6 216.9L504.1 212.4ZM513.3 212.5L517.8 217.0L513.3 221.5L508.8 217.0ZM518.0 217.2L522.5 221.7L518.0 226.2L513.5 221.7ZM522.7 222.0L527.2 226.5L522.7 231.0L518.2 226.5ZM527.4 225.1L531.9 229.6L527.4 234.1L522.9 229.6ZM532.2 227.5L536.7 232.0L532.2 236.5L527.7 232.0ZM536.9 232.3L541.4 236.8L536.9 241.3L532.4 236.8ZM541.6 237.5L546.1 242.0L541.6 246.5L537.1 242.0ZM546.3 242.5L550.8 247.0L546.3 251.5L541.8 247.0ZM551.0 246.8L555.5 251.3L551.0 255.8L546.5 251.3ZM555.7 251.1L560.2 255.6L555.7 260.1L551.2 255.6Z"/>
<path fill="none" stroke="#ffa520" stroke-width="0.85" d="M375.9 65.2h8.8M380.3 60.8v8.8M377.1 62.1l6.2 6.2M377.1 68.3l6.2 -6.2M381.8 47.6h8.8M386.2 43.2v8.8M383.1 44.4l6.2 6.2M383.1 50.7l6.2 -6.2M387.8 38.7h8.8M392.2 34.3v8.8M389.1 35.6l6.2 6.2M389.1 41.8l6.2 -6.2M393.8 36.4h8.8M398.2 32.0v8.8M395.1 33.3l6.2 6.2M395.1 39.5l6.2 -6.2M399.8 41.0h8.8M404.2 36.6v8.8M401.1 37.8l6.2 6.2M401.1 44.1l6.2 -6.2M405.8 49.6h8.8M410.2 45.2v8.8M407.0 46.5l6.2 6.2M407.0 52.7l6.2 -6.2M411.7 60.6h8.8M416.1 56.2v8.8M413.0 57.5l6.2 6.2M413.0 63.7l6.2 -6.2M417.7 75.2h8.8M422.1 70.8v8.8M419.0 72.1l6.2 6.2M419.0 78.3l6.2 -6.2M423.7 89.2h8.8M428.1 84.8v8.8M425.0 86.1l6.2 6.2M425.0 92.3l6.2 -6.2M429.7 101.5h8.8M434.1 97.1v8.8M431.0 98.4l6.2 6.2M431.0 104.6l6.2 -6.2M435.7 113.5h8.8M440.1 109.1v8.8M437.0 110.4l6.2 6.2M437.0 116.6l6.2 -6.2M441.7 124.8h8.8M446.1 120.4v8.8M442.9 121.7l6.2 6.2M442.9 127.9l6.2 -6.2M447.6 137.5h8.8M452.0 133.1v8.8M448.9 134.4l6.2 6.2M448.9 140.6l6.2 -6.2M453.6 149.8h8.8M458.0 145.4v8.8M454.9 146.6l6.2 6.2M454.9 152.9l6.2 -6.2M459.6 161.2h8.8M464.0 156.8v8.8M460.9 158.1l6.2 6.2M460.9 164.3l6.2 -6.2M465.6 173.0h8.8M470.0 168.6v8.8M466.9 169.9l6.2 6.2M466.9 176.1l6.2 -6.2M471.6 182.6h8.8M476.0 178.2v8.8M472.8 179.5l6.2 6.2M472.8 185.7l6.2 -6.2M477.5 192.0h8.8M481.9 187.6v8.8M478.8 188.8l6.2 6.2M478.8 195.1l6.2 -6.2M483.5 199.9h8.8M487.9 195.5v8.8M484.8 196.8l6.2 6.2M484.8 203.0l6.2 -6.2M489.5 205.8h8.8M493.9 201.4v8.8M490.8 202.7l6.2 6.2M490.8 208.9l6.2 -6.2M495.5 211.3h8.8M499.9 206.9v8.8M496.8 208.1l6.2 6.2M496.8 214.4l6.2 -6.2M501.5 216.8h8.8M505.9 212.4v8.8M502.8 213.7l6.2 6.2M502.8 219.9l6.2 -6.2M507.5 222.7h8.8M511.9 218.3v8.8M508.7 219.6l6.2 6.2M508.7 225.8l6.2 -6.2M513.4 228.7h8.8M517.8 224.3v8.8M514.7 225.6l6.2 6.2M514.7 231.8l6.2 -6.2M519.4 234.7h8.8M523.8 230.3v8.8M520.7 231.6l6.2 6.2M520.7 237.8l6.2 -6.2M525.4 237.9h8.8M529.8 233.5v8.8M526.7 234.8l6.2 6.2M526.7 241.0l6.2 -6.2M531.4 242.8h8.8M535.8 238.4v8.8M532.7 239.7l6.2 6.2M532.7 245.9l6.2 -6.2M537.4 249.4h8.8M541.8 245.0v8.8M538.6 246.3l6.2 6.2M538.6 252.5l6.2 -6.2M553.5 265.0h8.8M557.9 260.6v8.8M554.8 261.9l6.2 6.2M554.8 268.1l6.2 -6.2M566.2 275.4h8.8M570.6 271.0v8.8M567.5 272.3l6.2 6.2M567.5 278.5l6.2 -6.2M578.9 285.9h8.8M583.3 281.5v8.8M580.2 282.7l6.2 6.2M580.2 289.0l6.2 -6.2M587.2 294.2h8.8M591.6 289.8v8.8M588.5 291.1l6.2 6.2M588.5 297.3l6.2 -6.2"/>
<path fill="none" stroke="#ff44ff" stroke-width="0.9" d="M379.4 58.4L388.4 58.4L383.9 50.2ZM388.4 42.9L397.4 42.9L392.9 34.7ZM397.5 42.9L406.5 42.9L402.0 34.7ZM406.6 54.3L415.6 54.3L411.1 46.1ZM415.6 72.9L424.6 72.9L420.1 64.7ZM424.7 94.3L433.7 94.3L429.2 86.1ZM433.8 112.9L442.8 112.9L438.3 104.7ZM442.8 129.9L451.8 129.9L447.3 121.7ZM451.9 149.2L460.9 149.2L456.4 141.0ZM460.9 165.4L469.9 165.4L465.4 157.2ZM470.0 179.8L479.0 179.8L474.5 171.6ZM479.1 191.6L488.1 191.6L483.6 183.4ZM488.1 201.6L497.1 201.6L492.6 193.4ZM497.2 209.8L506.2 209.8L501.7 201.6ZM506.3 218.5L515.3 218.5L510.8 210.3ZM515.3 227.6L524.3 227.6L519.8 219.4ZM524.4 234.6L533.4 234.6L528.9 226.4ZM533.5 242.0L542.5 242.0L538.0 233.8ZM542.5 251.7L551.5 251.7L547.0 243.5ZM551.6 260.0L560.6 260.0L556.1 251.8ZM560.6 267.0L569.6 267.0L565.1 258.8ZM569.7 274.9L578.7 274.9L574.2 266.7Z"/>
<path fill="none" stroke="#7ab87a" stroke-width="0.8" d="M374.3 149.3h8.6v8.6h-8.6ZM376.4 122.9h8.6v8.6h-8.6ZM441.9 131.2h8.6v8.6h-8.6Z"/>
<path fill="#a0522d" d="M401.1 44.6L410.1 44.6L405.6 36.4ZM412.0 62.9L421.0 62.9L416.5 54.7ZM422.9 89.3L431.9 89.3L427.4 81.1ZM435.6 115.0L444.6 115.0L440.1 106.8ZM448.3 140.4L457.3 140.4L452.8 132.2ZM462.8 167.2L471.8 167.2L467.3 159.0ZM476.4 186.7L485.4 186.7L480.9 178.5ZM486.1 198.3L495.1 198.3L490.6 190.1ZM493.0 204.6L502.0 204.6L497.5 196.4ZM504.1 215.0L513.1 215.0L508.6 206.8ZM516.6 227.5L525.6 227.5L521.1 219.3ZM528.9 235.7L537.9 235.7L533.4 227.5ZM540.0 247.8L549.0 247.8L544.5 239.6ZM553.9 260.8L562.9 260.8L558.4 252.6ZM566.4 270.2L575.4 270.2L570.9 262.0ZM592.7 292.9L601.7 292.9L597.2 284.7Z"/>
<path fill="none" stroke="#3ee03e" stroke-width="1.1" d="M374.1 71.5l8.6 8.6M374.1 80.1l8.6 -8.6M378.1 55.5l8.6 8.6M378.1 64.1l8.6 -8.6M382.1 47.4l8.6 8.6M382.1 56.0l8.6 -8.6M386.1 39.0l8.6 8.6M386.1 47.6l8.6 -8.6M390.1 30.2l8.6 8.6M390.1 38.8l8.6 -8.6M394.1 26.2l8.6 8.6M394.1 34.8l8.6 -8.6M398.1 31.7l8.6 8.6M398.1 40.3l8.6 -8.6M402.1 39.6l8.6 8.6M402.1 48.2l8.6 -8.6M406.0 45.8l8.6 8.6M406.0 54.4l8.6 -8.6M410.0 46.9l8.6 8.6M410.0 55.5l8.6 -8.6M414.0 53.0l8.6 8.6M414.0 61.6l8.6 -8.6M418.0 65.3l8.6 8.6M418.0 73.9l8.6 -8.6M422.0 80.0l8.6 8.6M422.0 88.6l8.6 -8.6M426.0 89.1l8.6 8.6M426.0 97.7l8.6 -8.6M430.0 92.9l8.6 8.6M430.0 101.5l8.6 -8.6M434.0 97.7l8.6 8.6M434.0 106.3l8.6 -8.6M437.9 107.1l8.6 8.6M437.9 115.7l8.6 -8.6M441.9 119.5l8.6 8.6M441.9 128.1l8.6 -8.6M445.9 127.9l8.6 8.6M445.9 136.5l8.6 -8.6M449.9 133.9l8.6 8.6M449.9 142.5l8.6 -8.6M453.9 137.7l8.6 8.6M453.9 146.3l8.6 -8.6M457.9 146.0l8.6 8.6M457.9 154.6l8.6 -8.6M461.9 157.6l8.6 8.6M461.9 166.2l8.6 -8.6M465.9 166.7l8.6 8.6M465.9 175.3l8.6 -8.6M469.8 169.4l8.6 8.6M469.8 178.0l8.6 -8.6M473.8 170.1l8.6 8.6M473.8 178.7l8.6 -8.6M477.8 175.7l8.6 8.6M477.8 184.3l8.6 -8.6M481.8 185.2l8.6 8.6M481.8 193.8l8.6 -8.6M485.8 192.7l8.6 8.6M485.8 201.3l8.6 -8.6M489.8 193.8l8.6 8.6M489.8 202.4l8.6 -8.6M493.8 192.8l8.6 8.6M493.8 201.4l8.6 -8.6M497.8 195.9l8.6 8.6M497.8 204.5l8.6 -8.6M501.8 203.9l8.6 8.6M501.8 212.5l8.6 -8.6M505.7 211.3l8.6 8.6M505.7 219.9l8.6 -8.6M509.7 213.3l8.6 8.6M509.7 221.9l8.6 -8.6M513.7 212.5l8.6 8.6M513.7 221.1l8.6 -8.6M517.7 215.2l8.6 8.6M517.7 223.8l8.6 -8.6M521.7 222.7l8.6 8.6M521.7 231.3l8.6 -8.6M525.7 228.7l8.6 8.6M525.7 237.3l8.6 -8.6M529.7 229.7l8.6 8.6M529.7 238.3l8.6 -8.6M533.7 229.3l8.6 8.6M533.7 237.9l8.6 -8.6M537.6 231.6l8.6 8.6M537.6 240.2l8.6 -8.6M541.6 239.3l8.6 8.6M541.6 247.9l8.6 -8.6M545.6 247.4l8.6 8.6M545.6 256.0l8.6 -8.6M549.6 250.7l8.6 8.6M549.6 259.3l8.6 -8.6M553.6 249.7l8.6 8.6M553.6 258.3l8.6 -8.6M557.6 250.5l8.6 8.6M557.6 259.1l8.6 -8.6M561.6 255.6l8.6 8.6M561.6 264.2l8.6 -8.6M565.6 263.1l8.6 8.6M565.6 271.7l8.6 -8.6M569.5 267.5l8.6 8.6M569.5 276.1l8.6 -8.6M573.5 267.2l8.6 8.6M573.5 275.8l8.6 -8.6M577.5 267.4l8.6 8.6M577.5 276.0l8.6 -8.6M581.5 272.6l8.6 8.6M581.5 281.2l8.6 -8.6M585.5 280.4l8.6 8.6M585.5 289.0l8.6 -8.6M589.5 284.8l8.6 8.6M589.5 293.4l8.6 -8.6M593.5 284.1l8.6 8.6M593.5 292.7l8.6 -8.6M597.5 283.6l8.6 8.6M597.5 292.2l8.6 -8.6M601.4 288.1l8.6 8.6M601.4 296.7l8.6 -8.6M605.4 295.8l8.6 8.6M605.4 304.4l8.6 -8.6M609.4 300.7l8.6 8.6M609.4 309.3l8.6 -8.6M613.4 300.7l8.6 8.6M613.4 309.3l8.6 -8.6"/>
<path fill="#ff1493" d="M361.5 279.5h8.6v8.6h-8.6ZM364.2 209.2h8.6v8.6h-8.6ZM365.1 179.2h8.6v8.6h-8.6ZM366.5 151.5h8.6v8.6h-8.6ZM368.3 135.6h8.6v8.6h-8.6ZM370.2 118.0h8.6v8.6h-8.6ZM372.0 99.7h8.6v8.6h-8.6ZM373.8 86.4h8.6v8.6h-8.6ZM375.6 73.5h8.6v8.6h-8.6ZM377.4 63.0h8.6v8.6h-8.6ZM379.2 56.1h8.6v8.6h-8.6ZM381.0 49.5h8.6v8.6h-8.6ZM382.8 44.5h8.6v8.6h-8.6ZM384.7 41.1h8.6v8.6h-8.6ZM386.5 36.5h8.6v8.6h-8.6ZM388.3 31.8h8.6v8.6h-8.6ZM390.1 28.8h8.6v8.6h-8.6ZM391.9 25.7h8.6v8.6h-8.6ZM393.7 25.1h8.6v8.6h-8.6ZM395.5 27.0h8.6v8.6h-8.6ZM397.3 29.2h8.6v8.6h-8.6ZM399.2 32.2h8.6v8.6h-8.6ZM401.0 34.1h8.6v8.6h-8.6ZM402.2 35.1h8.6v8.6h-8.6ZM403.7 36.4h8.6v8.6h-8.6ZM405.1 38.6h8.6v8.6h-8.6ZM406.8 41.4h8.6v8.6h-8.6ZM408.6 44.1h8.6v8.6h-8.6ZM410.4 46.6h8.6v8.6h-8.6ZM413.1 51.7h8.6v8.6h-8.6ZM414.6 55.1h8.6v8.6h-8.6ZM420.4 69.0h8.6v8.6h-8.6ZM421.8 72.6h8.6v8.6h-8.6ZM426.7 83.5h8.6v8.6h-8.6ZM428.5 86.6h8.6v8.6h-8.6ZM434.9 97.6h8.6v8.6h-8.6ZM436.3 100.2h8.6v8.6h-8.6ZM441.8 109.0h8.6v8.6h-8.6ZM443.0 111.2h8.6v8.6h-8.6ZM451.5 125.8h8.6v8.6h-8.6ZM452.6 128.5h8.6v8.6h-8.6ZM462.1 148.6h8.6v8.6h-8.6ZM463.9 151.9h8.6v8.6h-8.6ZM466.2 156.3h8.6v8.6h-8.6ZM468.4 160.1h8.6v8.6h-8.6ZM492.5 187.6h8.6v8.6h-8.6ZM506.5 200.1h8.6v8.6h-8.6Z"/>
<path fill="#a020f0" d="M433.8 97.0L442.8 97.0L438.3 105.2ZM441.0 111.0L450.0 111.0L445.5 119.2ZM448.3 124.6L457.3 124.6L452.8 132.8ZM455.5 140.5L464.5 140.5L460.0 148.7ZM464.6 156.4L473.6 156.4L469.1 164.6ZM472.9 169.5L481.9 169.5L477.4 177.7ZM480.9 180.1L489.9 180.1L485.4 188.3ZM489.9 190.5L498.9 190.5L494.4 198.7ZM499.0 199.0L508.0 199.0L503.5 207.2ZM509.9 209.8L518.9 209.8L514.4 218.0ZM520.8 221.0L529.8 221.0L525.3 229.2ZM531.6 228.1L540.6 228.1L536.1 236.3ZM542.5 241.5L551.5 241.5L547.0 249.7ZM553.4 253.7L562.4 253.7L557.9 261.9ZM564.3 263.9L573.3 263.9L568.8 272.1ZM578.8 279.5L587.8 279.5L583.3 287.7ZM589.6 288.8L598.6 288.8L594.1 297.0ZM600.5 298.7L609.5 298.7L605.0 306.9ZM611.4 307.7L620.4 307.7L615.9 315.9Z"/>
<path fill="#000000" d="M362.5 190.5a4.15 4.15 0 1 0 8.30 0a4.15 4.15 0 1 0 -8.30 0ZM363.7 169.6a4.15 4.15 0 1 0 8.30 0a4.15 4.15 0 1 0 -8.30 0ZM365.5 150.8a4.15 4.15 0 1 0 8.30 0a4.15 4.15 0 1 0 -8.30 0ZM366.2 145.3a4.15 4.15 0 1 0 8.30 0a4.15 4.15 0 1 0 -8.30 0ZM368.1 128.6a4.15 4.15 0 1 0 8.30 0a4.15 4.15 0 1 0 -8.30 0ZM369.6 109.8a4.15 4.15 0 1 0 8.30 0a4.15 4.15 0 1 0 -8.30 0ZM371.4 96.5a4.15 4.15 0 1 0 8.30 0a4.15 4.15 0 1 0 -8.30 0ZM373.1 84.0a4.15 4.15 0 1 0 8.30 0a4.15 4.15 0 1 0 -8.30 0ZM374.7 72.9a4.15 4.15 0 1 0 8.30 0a4.15 4.15 0 1 0 -8.30 0ZM376.2 65.2a4.15 4.15 0 1 0 8.30 0a4.15 4.15 0 1 0 -8.30 0ZM378.4 57.6a4.15 4.15 0 1 0 8.30 0a4.15 4.15 0 1 0 -8.30 0ZM380.3 50.6a4.15 4.15 0 1 0 8.30 0a4.15 4.15 0 1 0 -8.30 0ZM386.3 39.2a4.15 4.15 0 1 0 8.30 0a4.15 4.15 0 1 0 -8.30 0ZM392.3 34.2a4.15 4.15 0 1 0 8.30 0a4.15 4.15 0 1 0 -8.30 0ZM395.6 35.3a4.15 4.15 0 1 0 8.30 0a4.15 4.15 0 1 0 -8.30 0ZM402.2 40.9a4.15 4.15 0 1 0 8.30 0a4.15 4.15 0 1 0 -8.30 0ZM405.4 46.4a4.15 4.15 0 1 0 8.30 0a4.15 4.15 0 1 0 -8.30 0ZM409.8 52.7a4.15 4.15 0 1 0 8.30 0a4.15 4.15 0 1 0 -8.30 0ZM414.9 64.5a4.15 4.15 0 1 0 8.30 0a4.15 4.15 0 1 0 -8.30 0ZM422.4 83.3a4.15 4.15 0 1 0 8.30 0a4.15 4.15 0 1 0 -8.30 0ZM429.0 96.5a4.15 4.15 0 1 0 8.30 0a4.15 4.15 0 1 0 -8.30 0ZM432.9 104.9a4.15 4.15 0 1 0 8.30 0a4.15 4.15 0 1 0 -8.30 0ZM441.7 121.6a4.15 4.15 0 1 0 8.30 0a4.15 4.15 0 1 0 -8.30 0ZM445.7 128.6a4.15 4.15 0 1 0 8.30 0a4.15 4.15 0 1 0 -8.30 0ZM449.0 136.9a4.15 4.15 0 1 0 8.30 0a4.15 4.15 0 1 0 -8.30 0ZM454.6 148.1a4.15 4.15 0 1 0 8.30 0a4.15 4.15 0 1 0 -8.30 0ZM467.5 170.3a4.15 4.15 0 1 0 8.30 0a4.15 4.15 0 1 0 -8.30 0ZM474.5 179.4a4.15 4.15 0 1 0 8.30 0a4.15 4.15 0 1 0 -8.30 0ZM478.7 184.9a4.15 4.15 0 1 0 8.30 0a4.15 4.15 0 1 0 -8.30 0ZM485.8 193.3a4.15 4.15 0 1 0 8.30 0a4.15 4.15 0 1 0 -8.30 0ZM501.0 207.2a4.15 4.15 0 1 0 8.30 0a4.15 4.15 0 1 0 -8.30 0ZM508.1 214.2a4.15 4.15 0 1 0 8.30 0a4.15 4.15 0 1 0 -8.30 0ZM520.6 226.7a4.15 4.15 0 1 0 8.30 0a4.15 4.15 0 1 0 -8.30 0ZM528.9 230.9a4.15 4.15 0 1 0 8.30 0a4.15 4.15 0 1 0 -8.30 0ZM541.6 244.8a4.15 4.15 0 1 0 8.30 0a4.15 4.15 0 1 0 -8.30 0ZM556.8 258.7a4.15 4.15 0 1 0 8.30 0a4.15 4.15 0 1 0 -8.30 0ZM563.9 262.9a4.15 4.15 0 1 0 8.30 0a4.15 4.15 0 1 0 -8.30 0ZM575.0 274.0a4.15 4.15 0 1 0 8.30 0a4.15 4.15 0 1 0 -8.30 0ZM579.1 277.5a4.15 4.15 0 1 0 8.30 0a4.15 4.15 0 1 0 -8.30 0ZM586.6 283.1a4.15 4.15 0 1 0 8.30 0a4.15 4.15 0 1 0 -8.30 0ZM600.0 294.2a4.15 4.15 0 1 0 8.30 0a4.15 4.15 0 1 0 -8.30 0ZM608.5 300.5a4.15 4.15 0 1 0 8.30 0a4.15 4.15 0 1 0 -8.30 0ZM617.4 308.1a4.15 4.15 0 1 0 8.30 0a4.15 4.15 0 1 0 -8.30 0Z"/>
<line x1="467.62" y1="169.63" x2="619.52" y2="315.79" stroke="#ffff00" stroke-width="1.8"/>
</g>
<clipPath id="cR"><rect x="52.60" y="431.40" width="271.90" height="382.80"/></clipPath>
<g clip-path="url(#cR)">
<path fill="#0000ff" d="M59.5,755.6 60.8,759.1 64.6,759.3 61.7,761.7 62.7,765.4 59.5,763.3 56.3,765.4 57.3,761.7 54.4,759.3 58.1,759.1ZM60.8,712.5 62.1,716.0 65.9,716.2 62.9,718.6 63.9,722.2 60.8,720.2 57.6,722.2 58.6,718.6 55.6,716.2 59.4,716.0ZM61.5,693.7 62.8,697.2 66.6,697.4 63.7,699.8 64.7,703.4 61.5,701.4 58.3,703.4 59.3,699.8 56.3,697.4 60.1,697.2ZM62.4,662.3 63.7,665.9 67.5,666.1 64.6,668.5 65.6,672.1 62.4,670.0 59.2,672.1 60.2,668.5 57.3,666.1 61.0,665.9ZM63.2,647.0 64.6,650.6 68.3,650.8 65.4,653.1 66.4,656.8 63.2,654.7 60.0,656.8 61.0,653.1 58.1,650.8 61.9,650.6ZM65.7,617.1 67.1,620.6 70.8,620.8 67.9,623.2 68.9,626.9 65.7,624.8 62.5,626.9 63.5,623.2 60.6,620.8 64.4,620.6ZM67.1,590.0 68.5,593.5 72.2,593.7 69.3,596.1 70.3,599.7 67.1,597.7 63.9,599.7 64.9,596.1 62.0,593.7 65.7,593.5ZM68.6,572.6 69.9,576.1 73.7,576.3 70.7,578.7 71.7,582.3 68.6,580.3 65.4,582.3 66.4,578.7 63.4,576.3 67.2,576.1ZM70.2,553.1 71.5,556.6 75.3,556.8 72.4,559.2 73.4,562.8 70.2,560.8 67.0,562.8 68.0,559.2 65.0,556.8 68.8,556.6ZM72.0,534.3 73.3,537.8 77.1,538.0 74.2,540.4 75.2,544.0 72.0,542.0 68.8,544.0 69.8,540.4 66.9,538.0 70.6,537.8ZM73.8,516.9 75.2,520.4 78.9,520.6 76.0,523.0 77.0,526.6 73.8,524.6 70.6,526.6 71.6,523.0 68.7,520.6 72.5,520.4ZM75.6,503.0 77.0,506.5 80.8,506.7 77.8,509.1 78.8,512.7 75.6,510.7 72.4,512.7 73.4,509.1 70.5,506.7 74.3,506.5ZM77.4,491.8 78.8,495.4 82.6,495.6 79.6,497.9 80.6,501.6 77.4,499.5 74.3,501.6 75.2,497.9 72.3,495.6 76.1,495.4ZM79.2,482.1 80.6,485.6 84.4,485.8 81.4,488.2 82.4,491.8 79.2,489.8 76.1,491.8 77.1,488.2 74.1,485.8 77.9,485.6ZM81.1,475.1 82.4,478.7 86.2,478.9 83.2,481.2 84.2,484.9 81.1,482.8 77.9,484.9 78.9,481.2 75.9,478.9 79.7,478.7ZM82.9,469.6 84.2,473.1 88.0,473.3 85.1,475.7 86.0,479.3 82.9,477.3 79.7,479.3 80.7,475.7 77.7,473.3 81.5,473.1ZM84.7,465.4 86.0,468.9 89.8,469.1 86.9,471.5 87.9,475.1 84.7,473.1 81.5,475.1 82.5,471.5 79.5,469.1 83.3,468.9ZM86.5,462.6 87.8,466.1 91.6,466.3 88.7,468.7 89.7,472.4 86.5,470.3 83.3,472.4 84.3,468.7 81.4,466.3 85.1,466.1ZM88.3,461.2 89.7,464.7 93.4,464.9 90.5,467.3 91.5,471.0 88.3,468.9 85.1,471.0 86.1,467.3 83.2,464.9 87.0,464.7ZM90.1,461.2 91.5,464.7 95.3,464.9 92.3,467.3 93.3,471.0 90.1,468.9 86.9,471.0 87.9,467.3 85.0,464.9 88.8,464.7ZM91.9,462.6 93.3,466.1 97.1,466.3 94.1,468.7 95.1,472.4 91.9,470.3 88.8,472.4 89.7,468.7 86.8,466.3 90.6,466.1ZM93.7,464.7 95.1,468.2 98.9,468.4 95.9,470.8 96.9,474.4 93.7,472.4 90.6,474.4 91.6,470.8 88.6,468.4 92.4,468.2ZM105.2,494.6 106.5,498.1 110.3,498.3 107.4,500.7 108.3,504.4 105.2,502.3 102.0,504.4 103.0,500.7 100.0,498.3 103.8,498.1ZM107.0,497.4 108.3,500.9 112.1,501.1 109.2,503.5 110.2,507.2 107.0,505.1 103.8,507.2 104.8,503.5 101.8,501.1 105.6,500.9ZM107.7,500.9 109.1,504.4 112.8,504.6 109.9,507.0 110.9,510.6 107.7,508.6 104.5,510.6 105.5,507.0 102.6,504.6 106.4,504.4ZM108.8,499.5 110.1,503.0 113.9,503.2 111.0,505.6 112.0,509.2 108.8,507.2 105.6,509.2 106.6,505.6 103.7,503.2 107.4,503.0ZM110.6,503.0 112.0,506.5 115.7,506.7 112.8,509.1 113.8,512.7 110.6,510.7 107.4,512.7 108.4,509.1 105.5,506.7 109.3,506.5ZM112.4,506.4 113.8,510.0 117.6,510.2 114.6,512.6 115.6,516.2 112.4,514.1 109.2,516.2 110.2,512.6 107.3,510.2 111.1,510.0ZM115.7,510.6 117.0,514.2 120.8,514.3 117.9,516.7 118.9,520.4 115.7,518.3 112.5,520.4 113.5,516.7 110.5,514.3 114.3,514.2ZM117.9,512.0 119.2,515.5 123.0,515.7 120.0,518.1 121.0,521.8 117.9,519.7 114.7,521.8 115.7,518.1 112.7,515.7 116.5,515.5ZM119.7,512.7 121.0,516.2 124.8,516.4 121.9,518.8 122.8,522.5 119.7,520.4 116.5,522.5 117.5,518.8 114.5,516.4 118.3,516.2ZM122.0,513.4 123.4,516.9 127.2,517.1 124.2,519.5 125.2,523.2 122.0,521.1 118.9,523.2 119.8,519.5 116.9,517.1 120.7,516.9ZM124.6,514.8 125.9,518.3 129.7,518.5 126.8,520.9 127.7,524.6 124.6,522.5 121.4,524.6 122.4,520.9 119.4,518.5 123.2,518.3ZM126.9,516.2 128.3,519.7 132.1,519.9 129.1,522.3 130.1,526.0 126.9,523.9 123.7,526.0 124.7,522.3 121.8,519.9 125.6,519.7ZM128.7,517.6 130.1,521.1 133.9,521.3 130.9,523.7 131.9,527.3 128.7,525.3 125.6,527.3 126.5,523.7 123.6,521.3 127.4,521.1ZM130.9,519.0 132.3,522.5 136.0,522.7 133.1,525.1 134.1,528.7 130.9,526.7 127.7,528.7 128.7,525.1 125.8,522.7 129.6,522.5ZM133.3,521.1 134.6,524.6 138.4,524.8 135.5,527.2 136.4,530.8 133.3,528.8 130.1,530.8 131.1,527.2 128.1,524.8 131.9,524.6ZM135.1,523.8 136.4,527.4 140.2,527.6 137.3,530.0 138.3,533.6 135.1,531.5 131.9,533.6 132.9,530.0 129.9,527.6 133.7,527.4ZM137.3,526.6 138.6,530.2 142.4,530.4 139.4,532.7 140.4,536.4 137.3,534.3 134.1,536.4 135.1,532.7 132.1,530.4 135.9,530.2ZM139.1,531.5 140.4,535.0 144.2,535.2 141.3,537.6 142.2,541.3 139.1,539.2 135.9,541.3 136.9,537.6 133.9,535.2 137.7,535.0ZM141.1,537.1 142.4,540.6 146.2,540.8 143.2,543.2 144.2,546.8 141.1,544.8 137.9,546.8 138.9,543.2 135.9,540.8 139.7,540.6ZM142.9,541.2 144.2,544.8 148.0,545.0 145.1,547.4 146.0,551.0 142.9,548.9 139.7,551.0 140.7,547.4 137.7,545.0 141.5,544.8ZM144.7,545.4 146.0,549.0 149.8,549.1 146.9,551.5 147.9,555.2 144.7,553.1 141.5,555.2 142.5,551.5 139.5,549.1 143.3,549.0ZM146.5,549.6 147.8,553.1 151.6,553.3 148.7,555.7 149.7,559.4 146.5,557.3 143.3,559.4 144.3,555.7 141.4,553.3 145.1,553.1ZM148.7,556.6 150.0,560.1 153.8,560.3 150.9,562.7 151.8,566.3 148.7,564.3 145.5,566.3 146.5,562.7 143.5,560.3 147.3,560.1ZM150.8,560.0 152.2,563.6 156.0,563.8 153.0,566.1 154.0,569.8 150.8,567.7 147.7,569.8 148.7,566.1 145.7,563.8 149.5,563.6ZM154.1,569.8 155.5,573.3 159.2,573.5 156.3,575.9 157.3,579.5 154.1,577.5 150.9,579.5 151.9,575.9 149.0,573.5 152.8,573.3ZM157.6,575.3 158.9,578.9 162.7,579.1 159.7,581.5 160.7,585.1 157.6,583.0 154.4,585.1 155.4,581.5 152.4,579.1 156.2,578.9ZM168.4,594.1 169.8,597.7 173.6,597.9 170.6,600.2 171.6,603.9 168.4,601.8 165.3,603.9 166.2,600.2 163.3,597.9 167.1,597.7ZM229.0,668.6 230.3,672.1 234.1,672.3 231.2,674.7 232.1,678.4 229.0,676.3 225.8,678.4 226.8,674.7 223.8,672.3 227.6,672.1ZM234.6,675.6 235.9,679.1 239.7,679.3 236.8,681.7 237.8,685.3 234.6,683.3 231.4,685.3 232.4,681.7 229.5,679.3 233.2,679.1ZM255.4,702.0 256.8,705.6 260.6,705.7 257.6,708.1 258.6,711.8 255.4,709.7 252.3,711.8 253.2,708.1 250.3,705.7 254.1,705.6ZM258.3,705.5 259.7,709.0 263.5,709.2 260.5,711.6 261.5,715.3 258.3,713.2 255.2,715.3 256.2,711.6 253.2,709.2 257.0,709.0ZM261.4,708.3 262.8,711.8 266.6,712.0 263.6,714.4 264.6,718.0 261.4,716.0 258.2,718.0 259.2,714.4 256.3,712.0 260.1,711.8ZM264.7,711.8 266.0,715.3 269.8,715.5 266.9,717.9 267.9,721.5 264.7,719.5 261.5,721.5 262.5,717.9 259.5,715.5 263.3,715.3ZM268.3,715.9 269.7,719.5 273.4,719.7 270.5,722.0 271.5,725.7 268.3,723.6 265.1,725.7 266.1,722.0 263.2,719.7 267.0,719.5ZM271.9,720.1 273.3,723.7 277.1,723.8 274.1,726.2 275.1,729.9 271.9,727.8 268.8,729.9 269.7,726.2 266.8,723.8 270.6,723.7ZM276.1,725.7 277.5,729.2 281.2,729.4 278.3,731.8 279.3,735.4 276.1,733.4 272.9,735.4 273.9,731.8 271.0,729.4 274.7,729.2ZM295.5,746.6 296.8,750.1 300.6,750.3 297.7,752.7 298.7,756.3 295.5,754.3 292.3,756.3 293.3,752.7 290.4,750.3 294.1,750.1ZM296.9,752.8 298.3,756.4 302.1,756.6 299.1,758.9 300.1,762.6 296.9,760.5 293.8,762.6 294.8,758.9 291.8,756.6 295.6,756.4ZM305.5,758.4 306.8,761.9 310.6,762.1 307.7,764.5 308.6,768.2 305.5,766.1 302.3,768.2 303.3,764.5 300.3,762.1 304.1,761.9ZM309.1,766.0 310.4,769.6 314.2,769.8 311.3,772.2 312.3,775.8 309.1,773.7 305.9,775.8 306.9,772.2 304.0,769.8 307.7,769.6ZM311.8,770.9 313.2,774.5 316.9,774.7 314.0,777.0 315.0,780.7 311.8,778.6 308.6,780.7 309.6,777.0 306.7,774.7 310.5,774.5ZM315.4,774.4 316.8,777.9 320.6,778.1 317.6,780.5 318.6,784.2 315.4,782.1 312.3,784.2 313.2,780.5 310.3,778.1 314.1,777.9Z"/>
<path fill="none" stroke="#ff2828" stroke-width="0.95" d="M70.7 527.5L75.2 532.0L70.7 536.5L66.2 532.0ZM73.6 504.2L78.1 508.7L73.6 513.2L69.1 508.7ZM76.5 489.1L81.0 493.6L76.5 498.1L72.0 493.6ZM79.4 477.5L83.9 482.0L79.4 486.5L74.9 482.0ZM82.3 470.9L86.8 475.4L82.3 479.9L77.8 475.4ZM85.2 465.4L89.7 469.9L85.2 474.4L80.7 469.9ZM88.1 463.6L92.6 468.1L88.1 472.6L83.6 468.1ZM91.0 462.5L95.5 467.0L91.0 471.5L86.5 467.0ZM93.9 462.6L98.4 467.1L93.9 471.6L89.4 467.1ZM96.8 465.5L101.3 470.0L96.8 474.5L92.3 470.0ZM99.7 468.4L104.2 472.9L99.7 477.4L95.2 472.9ZM102.6 473.4L107.1 477.9L102.6 482.4L98.1 477.9ZM105.5 480.6L110.0 485.1L105.5 489.6L101.0 485.1ZM108.4 488.4L112.9 492.9L108.4 497.4L103.9 492.9ZM111.3 495.6L115.8 500.1L111.3 504.6L106.8 500.1ZM114.2 500.1L118.7 504.6L114.2 509.1L109.7 504.6ZM117.1 503.1L121.6 507.6L117.1 512.1L112.6 507.6ZM120.0 506.0L124.5 510.5L120.0 515.0L115.5 510.5ZM122.9 508.0L127.4 512.5L122.9 517.0L118.4 512.5ZM125.8 510.0L130.3 514.5L125.8 519.0L121.3 514.5ZM128.7 511.4L133.2 515.9L128.7 520.4L124.2 515.9ZM131.6 513.2L136.1 517.7L131.6 522.2L127.1 517.7ZM134.5 516.9L139.0 521.4L134.5 525.9L130.0 521.4ZM137.4 520.6L141.9 525.1L137.4 529.6L132.9 525.1ZM140.3 524.4L144.8 528.9L140.3 533.4L135.8 528.9ZM143.2 528.4L147.7 532.9L143.2 537.4L138.7 532.9ZM146.1 535.6L150.6 540.1L146.1 544.6L141.6 540.1ZM149.0 541.5L153.5 546.0L149.0 550.5L144.5 546.0ZM151.9 547.3L156.4 551.8L151.9 556.3L147.4 551.8ZM154.8 553.3L159.3 557.8L154.8 562.3L150.3 557.8ZM157.7 559.8L162.2 564.3L157.7 568.8L153.2 564.3ZM160.6 566.4L165.1 570.9L160.6 575.4L156.1 570.9ZM163.5 573.0L168.0 577.5L163.5 582.0L159.0 577.5ZM166.4 579.3L170.9 583.8L166.4 588.3L161.9 583.8ZM169.3 585.5L173.8 590.0L169.3 594.5L164.8 590.0ZM172.2 590.7L176.7 595.2L172.2 599.7L167.7 595.2ZM175.1 594.5L179.6 599.0L175.1 603.5L170.6 599.0ZM178.0 598.0L182.5 602.5L178.0 607.0L173.5 602.5ZM180.9 601.2L185.4 605.7L180.9 610.2L176.4 605.7ZM183.8 604.3L188.3 608.8L183.8 613.3L179.3 608.8ZM186.7 607.7L191.2 612.2L186.7 616.7L182.2 612.2ZM189.6 611.3L194.1 615.8L189.6 620.3L185.1 615.8ZM192.5 614.9L197.0 619.4L192.5 623.9L188.0 619.4ZM195.4 618.4L199.9 622.9L195.4 627.4L190.9 622.9ZM198.3 622.0L202.8 626.5L198.3 631.0L193.8 626.5ZM201.2 625.3L205.7 629.8L201.2 634.3L196.7 629.8ZM204.1 628.6L208.6 633.1L204.1 637.6L199.6 633.1ZM207.0 632.0L211.5 636.5L207.0 641.0L202.5 636.5ZM209.9 636.0L214.4 640.5L209.9 645.0L205.4 640.5ZM212.8 639.9L217.3 644.4L212.8 648.9L208.3 644.4ZM215.7 643.9L220.2 648.4L215.7 652.9L211.2 648.4ZM218.6 647.7L223.1 652.2L218.6 656.7L214.1 652.2ZM221.5 649.8L226.0 654.3L221.5 658.8L217.0 654.3ZM224.4 651.9L228.9 656.4L224.4 660.9L219.9 656.4ZM227.3 654.6L231.8 659.1L227.3 663.6L222.8 659.1ZM230.2 658.4L234.7 662.9L230.2 667.4L225.7 662.9ZM233.1 662.2L237.6 666.7L233.1 671.2L228.6 666.7ZM236.0 666.1L240.5 670.6L236.0 675.1L231.5 670.6ZM241.5 671.9L246.0 676.4L241.5 680.9L237.0 676.4ZM244.0 674.7L248.5 679.2L244.0 683.7L239.5 679.2ZM246.9 678.9L251.4 683.4L246.9 687.9L242.4 683.4ZM249.8 681.6L254.3 686.1L249.8 690.6L245.3 686.1ZM252.9 685.8L257.4 690.3L252.9 694.8L248.4 690.3ZM255.6 688.6L260.1 693.1L255.6 697.6L251.1 693.1Z"/>
<path fill="none" stroke="#ffa520" stroke-width="0.85" d="M70.0 490.6h8.8M74.4 486.2v8.8M71.2 487.5l6.2 6.2M71.2 493.7l6.2 -6.2M73.9 477.4h8.8M78.3 473.0v8.8M75.2 474.3l6.2 6.2M75.2 480.5l6.2 -6.2M77.9 471.0h8.8M82.3 466.6v8.8M79.2 467.9l6.2 6.2M79.2 474.1l6.2 -6.2M81.9 468.2h8.8M86.3 463.8v8.8M83.2 465.1l6.2 6.2M83.2 471.3l6.2 -6.2M85.9 467.0h8.8M90.3 462.6v8.8M87.2 463.9l6.2 6.2M87.2 470.2l6.2 -6.2M89.9 467.7h8.8M94.3 463.3v8.8M91.2 464.6l6.2 6.2M91.2 470.8l6.2 -6.2M93.9 471.8h8.8M98.3 467.4v8.8M95.2 468.6l6.2 6.2M95.2 474.9l6.2 -6.2M97.9 477.7h8.8M102.3 473.3v8.8M99.2 474.6l6.2 6.2M99.2 480.8l6.2 -6.2M101.9 487.9h8.8M106.3 483.5v8.8M103.1 484.8l6.2 6.2M103.1 491.0l6.2 -6.2M105.8 498.1h8.8M110.2 493.7v8.8M107.1 495.0l6.2 6.2M107.1 501.2l6.2 -6.2M109.8 505.0h8.8M114.2 500.6v8.8M111.1 501.9l6.2 6.2M111.1 508.1l6.2 -6.2M113.8 509.2h8.8M118.2 504.8v8.8M115.1 506.1l6.2 6.2M115.1 512.3l6.2 -6.2M117.8 512.5h8.8M122.2 508.1v8.8M119.1 509.4l6.2 6.2M119.1 515.6l6.2 -6.2M121.8 515.2h8.8M126.2 510.8v8.8M123.1 512.1l6.2 6.2M123.1 518.3l6.2 -6.2M125.8 517.0h8.8M130.2 512.6v8.8M127.1 513.9l6.2 6.2M127.1 520.1l6.2 -6.2M129.8 521.6h8.8M134.2 517.2v8.8M131.1 518.5l6.2 6.2M131.1 524.7l6.2 -6.2M133.8 526.8h8.8M138.2 522.4v8.8M135.0 523.7l6.2 6.2M135.0 529.9l6.2 -6.2M137.7 532.2h8.8M142.1 527.8v8.8M139.0 529.1l6.2 6.2M139.0 535.3l6.2 -6.2M141.7 541.2h8.8M146.1 536.8v8.8M143.0 538.1l6.2 6.2M143.0 544.3l6.2 -6.2M145.7 549.2h8.8M150.1 544.8v8.8M147.0 546.1l6.2 6.2M147.0 552.3l6.2 -6.2M149.7 557.2h8.8M154.1 552.8v8.8M151.0 554.0l6.2 6.2M151.0 560.3l6.2 -6.2M153.7 566.1h8.8M158.1 561.7v8.8M155.0 562.9l6.2 6.2M155.0 569.2l6.2 -6.2M157.7 574.9h8.8M162.1 570.5v8.8M159.0 571.8l6.2 6.2M159.0 578.1l6.2 -6.2M161.7 583.6h8.8M166.1 579.2v8.8M163.0 580.5l6.2 6.2M163.0 586.7l6.2 -6.2M165.7 591.9h8.8M170.1 587.5v8.8M166.9 588.8l6.2 6.2M166.9 595.0l6.2 -6.2M169.6 597.7h8.8M174.0 593.3v8.8M170.9 594.6l6.2 6.2M170.9 600.9l6.2 -6.2M173.6 602.6h8.8M178.0 598.2v8.8M174.9 599.5l6.2 6.2M174.9 605.7l6.2 -6.2M177.6 606.9h8.8M182.0 602.5v8.8M178.9 603.7l6.2 6.2M178.9 610.0l6.2 -6.2M181.6 611.3h8.8M186.0 606.9v8.8M182.9 608.2l6.2 6.2M182.9 614.4l6.2 -6.2M185.6 616.2h8.8M190.0 611.8v8.8M186.9 613.1l6.2 6.2M186.9 619.3l6.2 -6.2M189.6 621.0h8.8M194.0 616.6v8.8M190.9 617.9l6.2 6.2M190.9 624.1l6.2 -6.2M193.6 625.9h8.8M198.0 621.5v8.8M194.9 622.8l6.2 6.2M194.9 629.0l6.2 -6.2M197.6 630.4h8.8M202.0 626.0v8.8M198.9 627.2l6.2 6.2M198.9 633.5l6.2 -6.2M201.6 634.8h8.8M206.0 630.4v8.8M202.8 631.6l6.2 6.2M202.8 637.9l6.2 -6.2M205.5 640.1h8.8M209.9 635.7v8.8M206.8 637.0l6.2 6.2M206.8 643.2l6.2 -6.2M209.5 645.5h8.8M213.9 641.1v8.8M210.8 642.4l6.2 6.2M210.8 648.6l6.2 -6.2M213.5 650.8h8.8M217.9 646.4v8.8M214.8 647.7l6.2 6.2M214.8 654.0l6.2 -6.2M217.5 653.9h8.8M221.9 649.5v8.8M218.8 650.8l6.2 6.2M218.8 657.0l6.2 -6.2M221.5 656.7h8.8M225.9 652.3v8.8M222.8 653.6l6.2 6.2M222.8 659.8l6.2 -6.2M225.5 661.8h8.8M229.9 657.4v8.8M226.8 658.7l6.2 6.2M226.8 664.9l6.2 -6.2M229.5 667.0h8.8M233.9 662.6v8.8M230.8 663.9l6.2 6.2M230.8 670.1l6.2 -6.2M233.5 672.2h8.8M237.9 667.8v8.8M234.7 669.1l6.2 6.2M234.7 675.3l6.2 -6.2M280.0 728.6h8.8M284.4 724.2v8.8M281.3 725.5l6.2 6.2M281.3 731.7l6.2 -6.2"/>
<path fill="none" stroke="#ff44ff" stroke-width="0.9" d="M73.5 483.9L82.5 483.9L78.0 475.7ZM81.6 472.2L90.6 472.2L86.1 464.0ZM89.8 470.5L98.8 470.5L94.3 462.3ZM97.9 479.9L106.9 479.9L102.4 471.7ZM106.1 500.2L115.1 500.2L110.6 492.0ZM114.3 512.2L123.3 512.2L118.8 504.0ZM122.4 518.4L131.4 518.4L126.9 510.2ZM130.6 524.9L139.6 524.9L135.1 516.7ZM138.7 535.6L147.7 535.6L143.2 527.4ZM146.9 553.0L155.9 553.0L151.4 544.8ZM155.0 570.0L164.0 570.0L159.5 561.8ZM163.2 587.2L172.2 587.2L167.7 579.0ZM171.4 600.5L180.4 600.5L175.9 592.3ZM179.5 609.6L188.5 609.6L184.0 601.4ZM187.7 619.3L196.7 619.3L192.2 611.1ZM195.8 629.2L204.8 629.2L200.3 621.0ZM204.0 638.6L213.0 638.6L208.5 630.4ZM212.1 649.5L221.1 649.5L216.6 641.3ZM220.3 656.9L229.3 656.9L224.8 648.7ZM228.5 666.2L237.5 666.2L233.0 658.0Z"/>
<path fill="none" stroke="#7ab87a" stroke-width="0.8" d="M66.2 571.9h8.6v8.6h-8.6ZM67.2 544.7h8.6v8.6h-8.6ZM90.7 471.6h8.6v8.6h-8.6ZM92.7 475.1h8.6v8.6h-8.6ZM94.7 478.6h8.6v8.6h-8.6ZM98.3 489.7h8.6v8.6h-8.6ZM128.6 531.5h8.6v8.6h-8.6ZM135.7 537.8h8.6v8.6h-8.6ZM137.7 541.9h8.6v8.6h-8.6ZM217.8 669.3h8.6v8.6h-8.6ZM219.2 669.3h8.6v8.6h-8.6Z"/>
<path fill="#a0522d" d="M95.2 475.1L104.2 475.1L99.7 466.9ZM106.1 499.3L115.1 499.3L110.6 491.1ZM117.0 513.7L126.0 513.7L121.5 505.5ZM129.7 522.5L138.7 522.5L134.2 514.3ZM142.4 542.5L151.4 542.5L146.9 534.3ZM156.9 571.3L165.9 571.3L161.4 563.1ZM170.5 595.2L179.5 595.2L175.0 587.0ZM180.2 606.2L189.2 606.2L184.7 598.0ZM187.1 614.5L196.1 614.5L191.6 606.3ZM198.2 627.6L207.2 627.6L202.7 619.4ZM210.7 643.4L219.7 643.4L215.2 635.2ZM223.0 654.9L232.0 654.9L227.5 646.7ZM234.1 664.8L243.1 664.8L238.6 656.6ZM248.0 694.0L257.0 694.0L252.5 685.8ZM260.5 705.1L269.5 705.1L265.0 696.9ZM286.8 733.0L295.8 733.0L291.3 724.8Z"/>
<path fill="none" stroke="#3ee03e" stroke-width="1.1" d="M68.2 499.1l8.6 8.6M68.2 507.7l8.6 -8.6M72.8 479.6l8.6 8.6M72.8 488.2l8.6 -8.6M77.3 468.8l8.6 8.6M77.3 477.4l8.6 -8.6M81.8 463.0l8.6 8.6M81.8 471.6l8.6 -8.6M86.4 461.7l8.6 8.6M86.4 470.3l8.6 -8.6M90.9 461.4l8.6 8.6M90.9 470.0l8.6 -8.6M95.4 465.9l8.6 8.6M95.4 474.5l8.6 -8.6M100.0 472.7l8.6 8.6M100.0 481.3l8.6 -8.6M104.5 484.8l8.6 8.6M104.5 493.4l8.6 -8.6M109.0 495.9l8.6 8.6M109.0 504.5l8.6 -8.6M113.6 501.0l8.6 8.6M113.6 509.6l8.6 -8.6M118.1 505.2l8.6 8.6M118.1 513.8l8.6 -8.6M122.6 508.3l8.6 8.6M122.6 516.9l8.6 -8.6M127.2 510.4l8.6 8.6M127.2 519.0l8.6 -8.6M131.7 515.4l8.6 8.6M131.7 524.0l8.6 -8.6M136.2 521.2l8.6 8.6M136.2 529.8l8.6 -8.6M140.7 528.0l8.6 8.6M140.7 536.6l8.6 -8.6M145.3 538.2l8.6 8.6M145.3 546.8l8.6 -8.6M149.8 547.2l8.6 8.6M149.8 555.8l8.6 -8.6M154.3 556.2l8.6 8.6M154.3 564.8l8.6 -8.6"/>
<path fill="#ff1493" d="M56.6 609.5h8.6v8.6h-8.6ZM58.6 580.2h8.6v8.6h-8.6ZM60.6 577.6h8.6v8.6h-8.6ZM64.3 537.1h8.6v8.6h-8.6ZM67.9 511.0h8.6v8.6h-8.6ZM71.5 489.1h8.6v8.6h-8.6ZM75.1 475.5h8.6v8.6h-8.6ZM78.8 468.4h8.6v8.6h-8.6ZM82.4 460.4h8.6v8.6h-8.6ZM84.6 457.9h8.6v8.6h-8.6ZM86.4 455.8h8.6v8.6h-8.6ZM88.2 456.9h8.6v8.6h-8.6ZM90.0 457.9h8.6v8.6h-8.6ZM91.8 459.0h8.6v8.6h-8.6ZM93.6 462.1h8.6v8.6h-8.6ZM95.4 463.7h8.6v8.6h-8.6ZM98.1 466.4h8.6v8.6h-8.6ZM101.2 471.0h8.6v8.6h-8.6ZM104.3 478.2h8.6v8.6h-8.6ZM107.4 486.5h8.6v8.6h-8.6ZM110.5 494.0h8.6v8.6h-8.6ZM113.6 498.7h8.6v8.6h-8.6ZM116.6 501.9h8.6v8.6h-8.6ZM119.7 504.8h8.6v8.6h-8.6ZM122.8 506.9h8.6v8.6h-8.6ZM125.9 508.9h8.6v8.6h-8.6ZM129.0 510.2h8.6v8.6h-8.6ZM132.0 513.0h8.6v8.6h-8.6ZM135.1 516.9h8.6v8.6h-8.6ZM144.4 531.2h8.6v8.6h-8.6ZM146.2 535.4h8.6v8.6h-8.6ZM148.9 540.8h8.6v8.6h-8.6ZM151.6 546.2h8.6v8.6h-8.6ZM154.3 551.5h8.6v8.6h-8.6ZM157.1 556.9h8.6v8.6h-8.6ZM155.4 553.1h8.6v8.6h-8.6ZM162.0 564.2h8.6v8.6h-8.6ZM185.9 604.6h8.6v8.6h-8.6ZM202.4 622.0h8.6v8.6h-8.6Z"/>
<path fill="#a020f0" d="M95.2 465.6L104.2 465.6L99.7 473.8ZM109.7 496.6L118.7 496.6L114.2 504.8ZM124.2 508.1L133.2 508.1L128.7 516.3ZM131.5 510.7L140.5 510.7L136.0 518.9ZM136.9 517.2L145.9 517.2L141.4 525.4ZM142.4 529.0L151.4 529.0L146.9 537.2ZM153.2 553.2L162.2 553.2L157.7 561.4ZM167.7 581.0L176.7 581.0L172.2 589.2ZM182.2 598.7L191.2 598.7L186.7 606.9ZM196.7 616.3L205.7 616.3L201.2 624.5ZM211.2 634.1L220.2 634.1L215.7 642.3ZM225.7 648.5L234.7 648.5L230.2 656.7ZM239.7 670.6L248.7 670.6L244.2 678.8ZM249.5 680.4L258.5 680.4L254.0 688.6ZM256.4 694.3L265.4 694.3L260.9 702.5ZM292.4 731.9L301.4 731.9L296.9 740.1ZM307.7 747.2L316.7 747.2L312.2 755.4Z"/>
<path fill="#000000" d="M56.2 615.8a4.15 4.15 0 1 0 8.30 0a4.15 4.15 0 1 0 -8.30 0ZM57.7 594.3a4.15 4.15 0 1 0 8.30 0a4.15 4.15 0 1 0 -8.30 0ZM59.8 576.2a4.15 4.15 0 1 0 8.30 0a4.15 4.15 0 1 0 -8.30 0ZM60.1 572.0a4.15 4.15 0 1 0 8.30 0a4.15 4.15 0 1 0 -8.30 0ZM61.4 553.9a4.15 4.15 0 1 0 8.30 0a4.15 4.15 0 1 0 -8.30 0ZM63.2 536.5a4.15 4.15 0 1 0 8.30 0a4.15 4.15 0 1 0 -8.30 0ZM65.5 523.3a4.15 4.15 0 1 0 8.30 0a4.15 4.15 0 1 0 -8.30 0ZM67.1 508.0a4.15 4.15 0 1 0 8.30 0a4.15 4.15 0 1 0 -8.30 0ZM68.8 497.5a4.15 4.15 0 1 0 8.30 0a4.15 4.15 0 1 0 -8.30 0ZM70.9 489.9a4.15 4.15 0 1 0 8.30 0a4.15 4.15 0 1 0 -8.30 0ZM72.4 483.6a4.15 4.15 0 1 0 8.30 0a4.15 4.15 0 1 0 -8.30 0ZM74.2 477.3a4.15 4.15 0 1 0 8.30 0a4.15 4.15 0 1 0 -8.30 0ZM80.4 467.6a4.15 4.15 0 1 0 8.30 0a4.15 4.15 0 1 0 -8.30 0ZM85.2 466.2a4.15 4.15 0 1 0 8.30 0a4.15 4.15 0 1 0 -8.30 0ZM89.6 464.8a4.15 4.15 0 1 0 8.30 0a4.15 4.15 0 1 0 -8.30 0ZM96.6 471.8a4.15 4.15 0 1 0 8.30 0a4.15 4.15 0 1 0 -8.30 0ZM100.1 478.0a4.15 4.15 0 1 0 8.30 0a4.15 4.15 0 1 0 -8.30 0ZM103.8 488.5a4.15 4.15 0 1 0 8.30 0a4.15 4.15 0 1 0 -8.30 0ZM108.9 501.0a4.15 4.15 0 1 0 8.30 0a4.15 4.15 0 1 0 -8.30 0ZM116.4 508.7a4.15 4.15 0 1 0 8.30 0a4.15 4.15 0 1 0 -8.30 0ZM123.7 513.5a4.15 4.15 0 1 0 8.30 0a4.15 4.15 0 1 0 -8.30 0ZM127.5 514.9a4.15 4.15 0 1 0 8.30 0a4.15 4.15 0 1 0 -8.30 0ZM135.7 525.4a4.15 4.15 0 1 0 8.30 0a4.15 4.15 0 1 0 -8.30 0ZM139.8 530.9a4.15 4.15 0 1 0 8.30 0a4.15 4.15 0 1 0 -8.30 0ZM142.9 538.6a4.15 4.15 0 1 0 8.30 0a4.15 4.15 0 1 0 -8.30 0ZM148.5 549.7a4.15 4.15 0 1 0 8.30 0a4.15 4.15 0 1 0 -8.30 0ZM161.2 574.8a4.15 4.15 0 1 0 8.30 0a4.15 4.15 0 1 0 -8.30 0ZM168.1 587.3a4.15 4.15 0 1 0 8.30 0a4.15 4.15 0 1 0 -8.30 0ZM173.5 594.3a4.15 4.15 0 1 0 8.30 0a4.15 4.15 0 1 0 -8.30 0ZM181.3 602.6a4.15 4.15 0 1 0 8.30 0a4.15 4.15 0 1 0 -8.30 0ZM195.6 620.0a4.15 4.15 0 1 0 8.30 0a4.15 4.15 0 1 0 -8.30 0ZM202.6 627.7a4.15 4.15 0 1 0 8.30 0a4.15 4.15 0 1 0 -8.30 0ZM215.0 644.4a4.15 4.15 0 1 0 8.30 0a4.15 4.15 0 1 0 -8.30 0ZM222.9 649.9a4.15 4.15 0 1 0 8.30 0a4.15 4.15 0 1 0 -8.30 0ZM235.2 666.0a4.15 4.15 0 1 0 8.30 0a4.15 4.15 0 1 0 -8.30 0Z"/>
<path d="M181.8 597.5h5.8M184.7 597.5v3M188.7 605.8h5.8M191.6 605.8v3M199.8 618.9h5.8M202.7 618.9v3M212.3 634.7h5.8M215.2 634.7v3M224.6 646.2h5.8M227.5 646.2v3M235.7 656.1h5.8M238.6 656.1v3M249.6 685.3h5.8M252.5 685.3v3M262.1 696.4h5.8M265.0 696.4v3M288.4 724.3h5.8M291.3 724.3v3" stroke="#c89078" stroke-width="0.8" fill="none"/>
<line x1="161.00" y1="574.08" x2="238.58" y2="665.95" stroke="#ffff00" stroke-width="1.8"/>
</g>
<clipPath id="cI"><rect x="358.50" y="431.40" width="271.90" height="382.80"/></clipPath>
<g clip-path="url(#cI)">
<path fill="#0000ff" d="M365.9,737.5 367.3,741.1 371.1,741.2 368.1,743.6 369.1,747.3 365.9,745.2 362.8,747.3 363.7,743.6 360.8,741.2 364.6,741.1ZM367.2,702.0 368.6,705.6 372.3,705.7 369.4,708.1 370.4,711.8 367.2,709.7 364.0,711.8 365.0,708.1 362.1,705.7 365.8,705.6ZM368.1,673.5 369.5,677.0 373.2,677.2 370.3,679.6 371.3,683.2 368.1,681.2 364.9,683.2 365.9,679.6 363.0,677.2 366.8,677.0ZM369.1,649.8 370.5,653.4 374.2,653.5 371.3,655.9 372.3,659.6 369.1,657.5 365.9,659.6 366.9,655.9 364.0,653.5 367.8,653.4ZM370.0,626.2 371.3,629.7 375.1,629.9 372.2,632.3 373.2,635.9 370.0,633.9 366.8,635.9 367.8,632.3 364.9,629.9 368.6,629.7ZM371.3,589.3 372.6,592.8 376.4,593.0 373.5,595.4 374.5,599.0 371.3,597.0 368.1,599.0 369.1,595.4 366.2,593.0 369.9,592.8ZM372.1,576.7 373.4,580.3 377.2,580.5 374.3,582.8 375.3,586.5 372.1,584.4 368.9,586.5 369.9,582.8 367.0,580.5 370.7,580.3ZM373.9,559.3 375.3,562.9 379.0,563.1 376.1,565.4 377.1,569.1 373.9,567.0 370.7,569.1 371.7,565.4 368.8,563.1 372.6,562.9ZM375.7,537.8 377.1,541.3 380.9,541.5 377.9,543.9 378.9,547.5 375.7,545.5 372.5,547.5 373.5,543.9 370.6,541.5 374.4,541.3ZM377.4,520.4 378.7,523.9 382.5,524.1 379.5,526.5 380.5,530.1 377.4,528.1 374.2,530.1 375.2,526.5 372.2,524.1 376.0,523.9ZM378.4,503.0 379.8,506.5 383.6,506.7 380.6,509.1 381.6,512.7 378.4,510.7 375.3,512.7 376.3,509.1 373.3,506.7 377.1,506.5ZM379.7,492.5 381.1,496.1 384.8,496.3 381.9,498.6 382.9,502.3 379.7,500.2 376.5,502.3 377.5,498.6 374.6,496.3 378.4,496.1ZM381.5,482.1 382.9,485.6 386.7,485.8 383.7,488.2 384.7,491.8 381.5,489.8 378.3,491.8 379.3,488.2 376.4,485.8 380.2,485.6ZM383.3,473.7 384.7,477.3 388.5,477.5 385.5,479.8 386.5,483.5 383.3,481.4 380.2,483.5 381.1,479.8 378.2,477.5 382.0,477.3ZM385.1,468.2 386.5,471.7 390.3,471.9 387.3,474.3 388.3,477.9 385.1,475.9 382.0,477.9 383.0,474.3 380.0,471.9 383.8,471.7ZM387.0,463.3 388.3,466.8 392.1,467.0 389.1,469.4 390.1,473.1 387.0,471.0 383.8,473.1 384.8,469.4 381.8,467.0 385.6,466.8ZM388.8,461.9 390.1,465.4 393.9,465.6 391.0,468.0 391.9,471.7 388.8,469.6 385.6,471.7 386.6,468.0 383.6,465.6 387.4,465.4ZM390.6,462.6 391.9,466.1 395.7,466.3 392.8,468.7 393.8,472.4 390.6,470.3 387.4,472.4 388.4,468.7 385.4,466.3 389.2,466.1ZM392.4,464.0 393.7,467.5 397.5,467.7 394.6,470.1 395.6,473.8 392.4,471.7 389.2,473.8 390.2,470.1 387.3,467.7 391.0,467.5ZM394.2,466.8 395.6,470.3 399.3,470.5 396.4,472.9 397.4,476.5 394.2,474.5 391.0,476.5 392.0,472.9 389.1,470.5 392.9,470.3ZM396.0,470.2 397.4,473.8 401.2,474.0 398.2,476.4 399.2,480.0 396.0,477.9 392.8,480.0 393.8,476.4 390.9,474.0 394.7,473.8ZM397.8,474.4 399.2,478.0 403.0,478.2 400.0,480.5 401.0,484.2 397.8,482.1 394.7,484.2 395.6,480.5 392.7,478.2 396.5,478.0ZM399.6,478.6 401.0,482.1 404.8,482.3 401.8,484.7 402.8,488.4 399.6,486.3 396.5,488.4 397.5,484.7 394.5,482.3 398.3,482.1ZM401.5,482.8 402.8,486.3 406.6,486.5 403.6,488.9 404.6,492.5 401.5,490.5 398.3,492.5 399.3,488.9 396.3,486.5 400.1,486.3ZM403.3,487.6 404.6,491.2 408.4,491.4 405.5,493.8 406.4,497.4 403.3,495.3 400.1,497.4 401.1,493.8 398.1,491.4 401.9,491.2ZM405.1,492.5 406.4,496.1 410.2,496.3 407.3,498.6 408.3,502.3 405.1,500.2 401.9,502.3 402.9,498.6 399.9,496.3 403.7,496.1ZM406.9,497.4 408.3,500.9 412.0,501.1 409.1,503.5 410.1,507.2 406.9,505.1 403.7,507.2 404.7,503.5 401.8,501.1 405.5,500.9ZM408.7,501.6 410.1,505.1 413.8,505.3 410.9,507.7 411.9,511.3 408.7,509.3 405.5,511.3 406.5,507.7 403.6,505.3 407.4,505.1ZM410.5,505.7 411.9,509.3 415.7,509.5 412.7,511.9 413.7,515.5 410.5,513.4 407.3,515.5 408.3,511.9 405.4,509.5 409.2,509.3ZM412.3,508.5 413.7,512.1 417.5,512.3 414.5,514.6 415.5,518.3 412.3,516.2 409.2,518.3 410.1,514.6 407.2,512.3 411.0,512.1ZM415.1,509.2 416.4,512.8 420.2,513.0 417.2,515.3 418.2,519.0 415.1,516.9 411.9,519.0 412.9,515.3 409.9,513.0 413.7,512.8ZM417.4,508.5 418.8,512.1 422.5,512.3 419.6,514.6 420.6,518.3 417.4,516.2 414.2,518.3 415.2,514.6 412.3,512.3 416.1,512.1ZM420.1,505.0 421.5,508.6 425.3,508.8 422.3,511.2 423.3,514.8 420.1,512.7 417.0,514.8 417.9,511.2 415.0,508.8 418.8,508.6ZM422.8,500.2 424.2,503.7 428.0,503.9 425.0,506.3 426.0,509.9 422.8,507.9 419.7,509.9 420.7,506.3 417.7,503.9 421.5,503.7ZM425.6,496.0 426.9,499.5 430.7,499.7 427.8,502.1 428.7,505.8 425.6,503.7 422.4,505.8 423.4,502.1 420.4,499.7 424.2,499.5ZM428.3,492.5 429.6,496.1 433.4,496.3 430.5,498.6 431.5,502.3 428.3,500.2 425.1,502.3 426.1,498.6 423.2,496.3 426.9,496.1ZM431.0,490.4 432.4,494.0 436.1,494.2 433.2,496.5 434.2,500.2 431.0,498.1 427.8,500.2 428.8,496.5 425.9,494.2 429.7,494.0ZM433.7,489.7 435.1,493.3 438.9,493.5 435.9,495.8 436.9,499.5 433.7,497.4 430.6,499.5 431.5,495.8 428.6,493.5 432.4,493.3ZM436.4,490.4 437.8,494.0 441.6,494.2 438.6,496.5 439.6,500.2 436.4,498.1 433.3,500.2 434.3,496.5 431.3,494.2 435.1,494.0ZM439.2,491.8 440.5,495.4 444.3,495.6 441.4,497.9 442.3,501.6 439.2,499.5 436.0,501.6 437.0,497.9 434.0,495.6 437.8,495.4ZM441.9,493.9 443.2,497.5 447.0,497.6 444.1,500.0 445.1,503.7 441.9,501.6 438.7,503.7 439.7,500.0 436.7,497.6 440.5,497.5ZM444.6,496.7 446.0,500.2 449.7,500.4 446.8,502.8 447.8,506.5 444.6,504.4 441.4,506.5 442.4,502.8 439.5,500.4 443.2,500.2ZM447.3,500.2 448.7,503.7 452.5,503.9 449.5,506.3 450.5,509.9 447.3,507.9 444.1,509.9 445.1,506.3 442.2,503.9 446.0,503.7ZM450.0,505.0 451.4,508.6 455.2,508.8 452.2,511.2 453.2,514.8 450.0,512.7 446.9,514.8 447.9,511.2 444.9,508.8 448.7,508.6ZM452.8,511.3 454.1,514.9 457.9,515.0 454.9,517.4 455.9,521.1 452.8,519.0 449.6,521.1 450.6,517.4 447.6,515.0 451.4,514.9ZM454.8,516.2 456.1,519.7 459.9,519.9 456.9,522.3 457.9,526.0 454.8,523.9 451.6,526.0 452.6,522.3 449.6,519.9 453.4,519.7ZM457.3,523.8 458.6,527.4 462.4,527.6 459.5,530.0 460.5,533.6 457.3,531.5 454.1,533.6 455.1,530.0 452.2,527.6 455.9,527.4ZM459.5,528.7 460.8,532.3 464.6,532.4 461.7,534.8 462.6,538.5 459.5,536.4 456.3,538.5 457.3,534.8 454.3,532.4 458.1,532.3ZM461.3,531.5 462.6,535.0 466.4,535.2 463.5,537.6 464.5,541.3 461.3,539.2 458.1,541.3 459.1,537.6 456.1,535.2 459.9,535.0ZM464.5,539.8 465.9,543.4 469.7,543.6 466.7,546.0 467.7,549.6 464.5,547.5 461.4,549.6 462.4,546.0 459.4,543.6 463.2,543.4ZM468.2,548.2 469.5,551.7 473.3,551.9 470.4,554.3 471.3,558.0 468.2,555.9 465.0,558.0 466.0,554.3 463.0,551.9 466.8,551.7ZM471.4,553.8 472.8,557.3 476.6,557.5 473.6,559.9 474.6,563.5 471.4,561.5 468.3,563.5 469.2,559.9 466.3,557.5 470.1,557.3ZM474.5,559.3 475.9,562.9 479.6,563.1 476.7,565.4 477.7,569.1 474.5,567.0 471.3,569.1 472.3,565.4 469.4,563.1 473.2,562.9ZM536.0,658.2 537.3,661.7 541.1,661.9 538.1,664.3 539.1,667.9 536.0,665.9 532.8,667.9 533.8,664.3 530.8,661.9 534.6,661.7ZM540.1,665.1 541.5,668.7 545.3,668.9 542.3,671.2 543.3,674.9 540.1,672.8 537.0,674.9 537.9,671.2 535.0,668.9 538.8,668.7ZM562.4,694.4 563.8,697.9 567.6,698.1 564.6,700.5 565.6,704.1 562.4,702.1 559.3,704.1 560.2,700.5 557.3,698.1 561.1,697.9ZM565.1,697.8 566.5,701.4 570.3,701.6 567.3,704.0 568.3,707.6 565.1,705.5 562.0,707.6 563.0,704.0 560.0,701.6 563.8,701.4ZM567.9,700.6 569.2,704.2 573.0,704.4 570.1,706.7 571.0,710.4 567.9,708.3 564.7,710.4 565.7,706.7 562.7,704.4 566.5,704.2ZM570.6,704.8 571.9,708.3 575.7,708.5 572.8,710.9 573.8,714.6 570.6,712.5 567.4,714.6 568.4,710.9 565.4,708.5 569.2,708.3ZM573.7,708.3 575.0,711.8 578.8,712.0 575.9,714.4 576.8,718.0 573.7,716.0 570.5,718.0 571.5,714.4 568.5,712.0 572.3,711.8ZM576.9,713.2 578.3,716.7 582.1,716.9 579.1,719.3 580.1,722.9 576.9,720.9 573.8,722.9 574.7,719.3 571.8,716.9 575.6,716.7ZM580.0,717.3 581.4,720.9 585.1,721.1 582.2,723.4 583.2,727.1 580.0,725.0 576.8,727.1 577.8,723.4 574.9,721.1 578.7,720.9ZM583.3,722.2 584.6,725.7 588.4,725.9 585.5,728.3 586.4,732.0 583.3,729.9 580.1,732.0 581.1,728.3 578.1,725.9 581.9,725.7ZM598.7,738.9 600.0,742.4 603.8,742.6 600.9,745.0 601.9,748.7 598.7,746.6 595.5,748.7 596.5,745.0 593.5,742.6 597.3,742.4ZM602.8,741.0 604.2,744.5 608.0,744.7 605.0,747.1 606.0,750.8 602.8,748.7 599.7,750.8 600.7,747.1 597.7,744.7 601.5,744.5ZM612.6,755.6 614.0,759.1 617.8,759.3 614.8,761.7 615.8,765.4 612.6,763.3 609.5,765.4 610.4,761.7 607.5,759.3 611.3,759.1ZM618.3,761.2 619.6,764.7 623.4,764.9 620.4,767.3 621.4,770.9 618.3,768.9 615.1,770.9 616.1,767.3 613.1,764.9 616.9,764.7ZM619.2,753.5 620.5,757.1 624.3,757.3 621.3,759.6 622.3,763.3 619.2,761.2 616.0,763.3 617.0,759.6 614.0,757.3 617.8,757.1ZM619.5,747.3 620.9,750.8 624.7,751.0 621.7,753.4 622.7,757.0 619.5,755.0 616.3,757.0 617.3,753.4 614.4,751.0 618.2,750.8Z"/>
<path fill="none" stroke="#ff2828" stroke-width="0.95" d="M376.6 514.8L381.1 519.3L376.6 523.8L372.1 519.3ZM381.3 479.7L385.8 484.2L381.3 488.7L376.8 484.2ZM386.1 463.7L390.6 468.2L386.1 472.7L381.6 468.2ZM390.8 459.2L395.3 463.7L390.8 468.2L386.3 463.7ZM395.5 462.9L400.0 467.4L395.5 471.9L391.0 467.4ZM400.2 472.1L404.7 476.6L400.2 481.1L395.7 476.6ZM404.9 479.6L409.4 484.1L404.9 488.6L400.4 484.1ZM409.6 491.1L414.1 495.6L409.6 500.1L405.1 495.6ZM414.3 502.2L418.8 506.7L414.3 511.2L409.8 506.7ZM419.0 507.8L423.5 512.3L419.0 516.8L414.5 512.3ZM423.8 506.3L428.3 510.8L423.8 515.3L419.3 510.8ZM428.5 503.8L433.0 508.3L428.5 512.8L424.0 508.3ZM433.2 500.9L437.7 505.4L433.2 509.9L428.7 505.4ZM437.9 498.8L442.4 503.3L437.9 507.8L433.4 503.3ZM442.6 498.7L447.1 503.2L442.6 507.7L438.1 503.2ZM447.3 499.8L451.8 504.3L447.3 508.8L442.8 504.3ZM452.0 504.6L456.5 509.1L452.0 513.6L447.5 509.1ZM456.7 513.0L461.2 517.5L456.7 522.0L452.2 517.5ZM461.5 524.1L466.0 528.6L461.5 533.1L457.0 528.6ZM466.2 535.4L470.7 539.9L466.2 544.4L461.7 539.9ZM470.9 546.8L475.4 551.3L470.9 555.8L466.4 551.3ZM475.6 557.4L480.1 561.9L475.6 566.4L471.1 561.9ZM480.3 566.1L484.8 570.6L480.3 575.1L475.8 570.6ZM485.0 574.8L489.5 579.3L485.0 583.8L480.5 579.3ZM489.7 583.3L494.2 587.8L489.7 592.3L485.2 587.8ZM494.4 591.5L498.9 596.0L494.4 600.5L489.9 596.0ZM499.2 599.6L503.7 604.1L499.2 608.6L494.7 604.1ZM503.9 607.7L508.4 612.2L503.9 616.7L499.4 612.2ZM508.6 613.9L513.1 618.4L508.6 622.9L504.1 618.4ZM513.3 621.2L517.8 625.7L513.3 630.2L508.8 625.7ZM518.0 629.4L522.5 633.9L518.0 638.4L513.5 633.9ZM522.7 637.4L527.2 641.9L522.7 646.4L518.2 641.9ZM527.4 643.4L531.9 647.9L527.4 652.4L522.9 647.9ZM532.2 649.1L536.7 653.6L532.2 658.1L527.7 653.6ZM536.9 656.3L541.4 660.8L536.9 665.3L532.4 660.8ZM541.6 663.5L546.1 668.0L541.6 672.5L537.1 668.0ZM546.3 670.0L550.8 674.5L546.3 679.0L541.8 674.5ZM551.0 675.8L555.5 680.3L551.0 684.8L546.5 680.3ZM555.7 681.7L560.2 686.2L555.7 690.7L551.2 686.2ZM560.4 687.6L564.9 692.1L560.4 696.6L555.9 692.1ZM565.1 693.5L569.6 698.0L565.1 702.5L560.6 698.0Z"/>
<path fill="none" stroke="#ffa520" stroke-width="0.85" d="M375.9 472.2h8.8M380.3 467.8v8.8M377.1 469.1l6.2 6.2M377.1 475.3l6.2 -6.2M381.7 464.7h8.8M386.1 460.3v8.8M382.9 461.6l6.2 6.2M382.9 467.8l6.2 -6.2M387.5 464.6h8.8M391.9 460.2v8.8M388.7 461.5l6.2 6.2M388.7 467.7l6.2 -6.2M393.3 473.2h8.8M397.7 468.8v8.8M394.5 470.0l6.2 6.2M394.5 476.3l6.2 -6.2M399.1 482.4h8.8M403.5 478.0v8.8M400.3 479.3l6.2 6.2M400.3 485.5l6.2 -6.2M404.9 495.6h8.8M409.3 491.2v8.8M406.1 492.5l6.2 6.2M406.1 498.7l6.2 -6.2M410.7 508.8h8.8M415.1 504.4v8.8M411.9 505.7l6.2 6.2M411.9 511.9l6.2 -6.2M416.5 513.7h8.8M420.9 509.3v8.8M417.7 510.6l6.2 6.2M417.7 516.8l6.2 -6.2M422.3 514.0h8.8M426.7 509.6v8.8M423.5 510.9l6.2 6.2M423.5 517.1l6.2 -6.2M428.1 507.0h8.8M432.5 502.6v8.8M429.3 503.9l6.2 6.2M429.3 510.1l6.2 -6.2M433.9 502.9h8.8M438.3 498.5v8.8M435.1 499.8l6.2 6.2M435.1 506.0l6.2 -6.2M439.7 502.4h8.8M444.1 498.0v8.8M440.9 499.3l6.2 6.2M440.9 505.5l6.2 -6.2M445.5 505.8h8.8M449.9 501.4v8.8M446.7 502.7l6.2 6.2M446.7 508.9l6.2 -6.2M451.3 514.8h8.8M455.7 510.4v8.8M452.5 511.7l6.2 6.2M452.5 517.9l6.2 -6.2M457.1 528.5h8.8M461.5 524.1v8.8M458.3 525.4l6.2 6.2M458.3 531.6l6.2 -6.2M462.9 545.5h8.8M467.3 541.1v8.8M464.1 542.4l6.2 6.2M464.1 548.6l6.2 -6.2M468.3 559.7h8.8M472.7 555.3v8.8M469.6 556.5l6.2 6.2M469.6 562.8l6.2 -6.2M475.5 573.6h8.8M479.9 569.2v8.8M476.8 570.5l6.2 6.2M476.8 576.7l6.2 -6.2M482.8 586.3h8.8M487.2 581.9v8.8M484.1 583.2l6.2 6.2M484.1 589.4l6.2 -6.2M490.1 598.4h8.8M494.4 594.0v8.8M491.3 595.3l6.2 6.2M491.3 601.5l6.2 -6.2M497.3 610.4h8.8M501.7 606.0v8.8M498.6 607.2l6.2 6.2M498.6 613.5l6.2 -6.2M504.6 620.0h8.8M509.0 615.6v8.8M505.8 616.9l6.2 6.2M505.8 623.2l6.2 -6.2M511.8 631.5h8.8M516.2 627.1v8.8M513.1 628.4l6.2 6.2M513.1 634.6l6.2 -6.2M519.1 643.6h8.8M523.5 639.2v8.8M520.3 640.5l6.2 6.2M520.3 646.7l6.2 -6.2M526.3 652.4h8.8M530.7 648.0v8.8M527.6 649.3l6.2 6.2M527.6 655.6l6.2 -6.2M533.6 663.8h8.8M538.0 659.4v8.8M534.8 660.7l6.2 6.2M534.8 667.0l6.2 -6.2M540.8 674.8h8.8M545.2 670.4v8.8M542.1 671.7l6.2 6.2M542.1 677.9l6.2 -6.2M548.1 684.4h8.8M552.5 680.0v8.8M549.3 681.2l6.2 6.2M549.3 687.5l6.2 -6.2M423.0 517.0h8.8M427.4 512.6v8.8M424.3 513.9l6.2 6.2M424.3 520.1l6.2 -6.2M424.1 518.4h8.8M428.5 514.0v8.8M425.4 515.3l6.2 6.2M425.4 521.5l6.2 -6.2M587.2 735.6h8.8M591.6 731.2v8.8M588.5 732.4l6.2 6.2M588.5 738.7l6.2 -6.2"/>
<path fill="none" stroke="#ff44ff" stroke-width="0.9" d="M379.4 476.4L388.4 476.4L383.9 468.2ZM388.4 472.2L397.4 472.2L392.9 464.0ZM397.5 484.7L406.5 484.7L402.0 476.5ZM406.6 502.6L415.6 502.6L411.1 494.4ZM415.6 518.9L424.6 518.9L420.1 510.7ZM424.7 514.8L433.7 514.8L429.2 506.6ZM433.8 508.8L442.8 508.8L438.3 500.6ZM442.8 508.7L451.8 508.7L447.3 500.5ZM451.9 518.7L460.9 518.7L456.4 510.5ZM460.9 538.6L469.9 538.6L465.4 530.4ZM473.6 566.5L482.6 566.5L478.1 558.3ZM488.1 590.7L497.1 590.7L492.6 582.5ZM502.6 612.8L511.6 612.8L507.1 604.6ZM517.1 633.9L526.1 633.9L521.6 625.7ZM531.6 653.5L540.6 653.5L536.1 645.3Z"/>
<path fill="none" stroke="#7ab87a" stroke-width="0.8" d="M372.1 566.3h8.6v8.6h-8.6ZM374.7 535.7h8.6v8.6h-8.6ZM524.6 644.9h8.6v8.6h-8.6Z"/>
<path fill="#a0522d" d="M400.8 473.4L409.8 473.4L405.3 465.2ZM427.1 492.2L436.1 492.2L431.6 484.0ZM439.2 483.8L448.2 483.8L443.7 475.6ZM448.3 501.2L457.3 501.2L452.8 493.0ZM462.8 536.0L471.8 536.0L467.3 527.8ZM476.4 560.4L485.4 560.4L480.9 552.2ZM492.3 584.7L501.3 584.7L496.8 576.5ZM504.5 602.1L513.5 602.1L509.0 593.9ZM517.3 619.5L526.3 619.5L521.8 611.3ZM529.3 639.0L538.3 639.0L533.8 630.8ZM539.8 644.6L548.8 644.6L544.3 636.4ZM554.3 669.6L563.3 669.6L558.8 661.4ZM567.7 685.7L576.7 685.7L572.2 677.5ZM592.7 707.2L601.7 707.2L597.2 699.0Z"/>
<path fill="none" stroke="#3ee03e" stroke-width="1.1" d="M374.1 489.7l8.6 8.6M374.1 498.3l8.6 -8.6M378.7 467.9l8.6 8.6M378.7 476.5l8.6 -8.6M383.2 461.2l8.6 8.6M383.2 469.8l8.6 -8.6M387.7 459.5l8.6 8.6M387.7 468.1l8.6 -8.6M392.3 462.7l8.6 8.6M392.3 471.3l8.6 -8.6M396.8 469.8l8.6 8.6M396.8 478.4l8.6 -8.6M401.3 476.7l8.6 8.6M401.3 485.3l8.6 -8.6M405.9 485.9l8.6 8.6M405.9 494.5l8.6 -8.6M410.4 497.6l8.6 8.6M410.4 506.2l8.6 -8.6M414.9 505.8l8.6 8.6M414.9 514.4l8.6 -8.6M419.5 505.7l8.6 8.6M419.5 514.3l8.6 -8.6M424.0 503.8l8.6 8.6M424.0 512.4l8.6 -8.6M428.5 500.7l8.6 8.6M428.5 509.3l8.6 -8.6M433.1 497.5l8.6 8.6M433.1 506.1l8.6 -8.6M437.6 496.4l8.6 8.6M437.6 505.0l8.6 -8.6M442.1 496.0l8.6 8.6M442.1 504.6l8.6 -8.6M446.6 497.6l8.6 8.6M446.6 506.2l8.6 -8.6M451.2 503.3l8.6 8.6M451.2 511.9l8.6 -8.6M455.7 511.5l8.6 8.6M455.7 520.1l8.6 -8.6M460.2 522.1l8.6 8.6M460.2 530.7l8.6 -8.6"/>
<path fill="#ff1493" d="M362.9 597.6h8.6v8.6h-8.6ZM364.7 576.7h8.6v8.6h-8.6ZM366.5 563.1h8.6v8.6h-8.6ZM370.2 525.3h8.6v8.6h-8.6ZM373.8 500.1h8.6v8.6h-8.6ZM377.4 475.8h8.6v8.6h-8.6ZM381.0 464.7h8.6v8.6h-8.6ZM384.7 460.8h8.6v8.6h-8.6ZM388.3 458.1h8.6v8.6h-8.6ZM390.5 458.0h8.6v8.6h-8.6ZM392.3 458.2h8.6v8.6h-8.6ZM394.1 461.4h8.6v8.6h-8.6ZM395.9 464.7h8.6v8.6h-8.6ZM397.7 468.0h8.6v8.6h-8.6ZM399.5 471.2h8.6v8.6h-8.6ZM401.3 473.7h8.6v8.6h-8.6ZM404.0 477.8h8.6v8.6h-8.6ZM407.1 484.2h8.6v8.6h-8.6ZM410.2 491.7h8.6v8.6h-8.6ZM413.3 499.2h8.6v8.6h-8.6ZM416.4 504.6h8.6v8.6h-8.6ZM419.5 506.5h8.6v8.6h-8.6ZM422.5 505.4h8.6v8.6h-8.6ZM425.6 502.2h8.6v8.6h-8.6ZM428.7 497.8h8.6v8.6h-8.6ZM431.8 493.3h8.6v8.6h-8.6ZM434.9 489.5h8.6v8.6h-8.6ZM437.9 488.2h8.6v8.6h-8.6ZM441.0 488.0h8.6v8.6h-8.6ZM444.1 487.7h8.6v8.6h-8.6ZM447.2 487.1h8.6v8.6h-8.6ZM450.3 487.4h8.6v8.6h-8.6ZM453.4 489.5h8.6v8.6h-8.6ZM460.2 510.5h8.6v8.6h-8.6ZM463.9 522.5h8.6v8.6h-8.6ZM466.9 532.4h8.6v8.6h-8.6ZM503.7 604.6h8.6v8.6h-8.6Z"/>
<path fill="#a020f0" d="M397.5 470.4L406.5 470.4L402.0 478.6ZM408.4 491.0L417.4 491.0L412.9 499.2ZM419.3 504.7L428.3 504.7L423.8 512.9ZM424.7 496.5L433.7 496.5L429.2 504.7ZM428.3 490.0L437.3 490.0L432.8 498.2ZM431.9 485.4L440.9 485.4L436.4 493.6ZM435.6 482.8L444.6 482.8L440.1 491.0ZM439.2 482.2L448.2 482.2L443.7 490.4ZM442.8 481.5L451.8 481.5L447.3 489.7ZM446.4 485.0L455.4 485.0L450.9 493.2ZM450.1 493.6L459.1 493.6L454.6 501.8ZM462.8 527.0L471.8 527.0L467.3 535.2ZM473.6 551.3L482.6 551.3L478.1 559.5ZM484.5 570.1L493.5 570.1L489.0 578.3ZM495.4 587.7L504.4 587.7L499.9 595.9ZM506.3 603.4L515.3 603.4L510.8 611.6ZM517.1 619.5L526.1 619.5L521.6 627.7ZM531.6 639.2L540.6 639.2L536.1 647.4ZM546.1 660.3L555.1 660.3L550.6 668.5ZM560.6 678.4L569.6 678.4L565.1 686.6ZM599.6 736.0L608.6 736.0L604.1 744.2ZM613.6 748.6L622.6 748.6L618.1 756.8Z"/>
<path fill="#000000" d="M362.3 601.2a4.15 4.15 0 1 0 8.30 0a4.15 4.15 0 1 0 -8.30 0ZM363.7 579.0a4.15 4.15 0 1 0 8.30 0a4.15 4.15 0 1 0 -8.30 0ZM365.8 560.9a4.15 4.15 0 1 0 8.30 0a4.15 4.15 0 1 0 -8.30 0ZM366.1 556.7a4.15 4.15 0 1 0 8.30 0a4.15 4.15 0 1 0 -8.30 0ZM367.5 538.6a4.15 4.15 0 1 0 8.30 0a4.15 4.15 0 1 0 -8.30 0ZM369.6 521.9a4.15 4.15 0 1 0 8.30 0a4.15 4.15 0 1 0 -8.30 0ZM371.4 512.1a4.15 4.15 0 1 0 8.30 0a4.15 4.15 0 1 0 -8.30 0ZM373.1 495.4a4.15 4.15 0 1 0 8.30 0a4.15 4.15 0 1 0 -8.30 0ZM374.7 485.7a4.15 4.15 0 1 0 8.30 0a4.15 4.15 0 1 0 -8.30 0ZM376.2 478.0a4.15 4.15 0 1 0 8.30 0a4.15 4.15 0 1 0 -8.30 0ZM378.4 470.4a4.15 4.15 0 1 0 8.30 0a4.15 4.15 0 1 0 -8.30 0ZM381.4 466.2a4.15 4.15 0 1 0 8.30 0a4.15 4.15 0 1 0 -8.30 0ZM385.7 463.4a4.15 4.15 0 1 0 8.30 0a4.15 4.15 0 1 0 -8.30 0ZM390.2 464.8a4.15 4.15 0 1 0 8.30 0a4.15 4.15 0 1 0 -8.30 0ZM394.5 471.8a4.15 4.15 0 1 0 8.30 0a4.15 4.15 0 1 0 -8.30 0ZM402.2 483.6a4.15 4.15 0 1 0 8.30 0a4.15 4.15 0 1 0 -8.30 0ZM406.1 492.6a4.15 4.15 0 1 0 8.30 0a4.15 4.15 0 1 0 -8.30 0ZM409.8 502.4a4.15 4.15 0 1 0 8.30 0a4.15 4.15 0 1 0 -8.30 0ZM414.9 511.4a4.15 4.15 0 1 0 8.30 0a4.15 4.15 0 1 0 -8.30 0ZM422.4 508.7a4.15 4.15 0 1 0 8.30 0a4.15 4.15 0 1 0 -8.30 0ZM429.6 503.8a4.15 4.15 0 1 0 8.30 0a4.15 4.15 0 1 0 -8.30 0ZM433.4 501.0a4.15 4.15 0 1 0 8.30 0a4.15 4.15 0 1 0 -8.30 0ZM441.7 500.3a4.15 4.15 0 1 0 8.30 0a4.15 4.15 0 1 0 -8.30 0ZM445.7 501.7a4.15 4.15 0 1 0 8.30 0a4.15 4.15 0 1 0 -8.30 0ZM449.4 505.9a4.15 4.15 0 1 0 8.30 0a4.15 4.15 0 1 0 -8.30 0ZM454.6 514.9a4.15 4.15 0 1 0 8.30 0a4.15 4.15 0 1 0 -8.30 0ZM467.0 544.2a4.15 4.15 0 1 0 8.30 0a4.15 4.15 0 1 0 -8.30 0ZM473.6 558.1a4.15 4.15 0 1 0 8.30 0a4.15 4.15 0 1 0 -8.30 0ZM478.7 566.4a4.15 4.15 0 1 0 8.30 0a4.15 4.15 0 1 0 -8.30 0ZM486.5 579.6a4.15 4.15 0 1 0 8.30 0a4.15 4.15 0 1 0 -8.30 0ZM501.0 602.6a4.15 4.15 0 1 0 8.30 0a4.15 4.15 0 1 0 -8.30 0ZM508.1 611.0a4.15 4.15 0 1 0 8.30 0a4.15 4.15 0 1 0 -8.30 0ZM521.1 631.8a4.15 4.15 0 1 0 8.30 0a4.15 4.15 0 1 0 -8.30 0ZM528.9 640.9a4.15 4.15 0 1 0 8.30 0a4.15 4.15 0 1 0 -8.30 0ZM540.7 659.0a4.15 4.15 0 1 0 8.30 0a4.15 4.15 0 1 0 -8.30 0ZM556.8 679.2a4.15 4.15 0 1 0 8.30 0a4.15 4.15 0 1 0 -8.30 0ZM562.4 686.1a4.15 4.15 0 1 0 8.30 0a4.15 4.15 0 1 0 -8.30 0ZM573.5 698.0a4.15 4.15 0 1 0 8.30 0a4.15 4.15 0 1 0 -8.30 0ZM577.7 704.9a4.15 4.15 0 1 0 8.30 0a4.15 4.15 0 1 0 -8.30 0Z"/>
<path d="M493.9 576.0h5.8M496.8 576.0v3M506.1 593.4h5.8M509.0 593.4v3M518.9 610.8h5.8M521.8 610.8v3M530.9 630.3h5.8M533.8 630.3v3M541.4 635.9h5.8M544.3 635.9v3M555.9 661.0h5.8M558.8 661.0v3M569.3 677.0h5.8M572.2 677.0v3M594.3 698.5h5.8M597.2 698.5v3" stroke="#c89078" stroke-width="0.8" fill="none"/>
<path d="M528.89 617.23V682.66M525.49 617.23h6.8M525.49 682.66h6.8" stroke="#77b077" stroke-width="0.9" fill="none"/>
<line x1="467.17" y1="540.67" x2="581.82" y2="713.28" stroke="#ffff00" stroke-width="1.8"/>
</g>
<rect x="52.60" y="0.50" width="271.90" height="382.80" fill="none" stroke="#000" stroke-width="1.25"/>
<path d="M52.60 383.30v-7.4M52.60 0.50v7.4M61.66 383.30v-3.7M61.66 0.50v3.7M70.73 383.30v-3.7M70.73 0.50v3.7M79.79 383.30v-3.7M79.79 0.50v3.7M88.85 383.30v-7.4M88.85 0.50v7.4M97.92 383.30v-3.7M97.92 0.50v3.7M106.98 383.30v-3.7M106.98 0.50v3.7M116.04 383.30v-3.7M116.04 0.50v3.7M125.11 383.30v-7.4M125.11 0.50v7.4M134.17 383.30v-3.7M134.17 0.50v3.7M143.23 383.30v-3.7M143.23 0.50v3.7M152.30 383.30v-3.7M152.30 0.50v3.7M161.36 383.30v-7.4M161.36 0.50v7.4M170.42 383.30v-3.7M170.42 0.50v3.7M179.49 383.30v-3.7M179.49 0.50v3.7M188.55 383.30v-3.7M188.55 0.50v3.7M197.61 383.30v-7.4M197.61 0.50v7.4M206.68 383.30v-3.7M206.68 0.50v3.7M215.74 383.30v-3.7M215.74 0.50v3.7M224.80 383.30v-3.7M224.80 0.50v3.7M233.87 383.30v-7.4M233.87 0.50v7.4M242.93 383.30v-3.7M242.93 0.50v3.7M251.99 383.30v-3.7M251.99 0.50v3.7M261.06 383.30v-3.7M261.06 0.50v3.7M270.12 383.30v-7.4M270.12 0.50v7.4M279.18 383.30v-3.7M279.18 0.50v3.7M288.25 383.30v-3.7M288.25 0.50v3.7M297.31 383.30v-3.7M297.31 0.50v3.7M306.37 383.30v-7.4M306.37 0.50v7.4M315.44 383.30v-3.7M315.44 0.50v3.7M324.50 383.30v-3.7M324.50 0.50v3.7M52.60 0.50h2.7M324.50 0.50h-2.7M52.60 7.46h2.7M324.50 7.46h-2.7M52.60 14.42h2.7M324.50 14.42h-2.7M52.60 21.38h2.7M324.50 21.38h-2.7M52.60 28.34h2.7M324.50 28.34h-2.7M52.60 35.30h5.3M324.50 35.30h-5.3M52.60 42.26h2.7M324.50 42.26h-2.7M52.60 49.22h2.7M324.50 49.22h-2.7M52.60 56.18h2.7M324.50 56.18h-2.7M52.60 63.14h2.7M324.50 63.14h-2.7M52.60 70.10h2.7M324.50 70.10h-2.7M52.60 77.06h2.7M324.50 77.06h-2.7M52.60 84.02h2.7M324.50 84.02h-2.7M52.60 90.98h2.7M324.50 90.98h-2.7M52.60 97.94h2.7M324.50 97.94h-2.7M52.60 104.90h5.3M324.50 104.90h-5.3M52.60 111.86h2.7M324.50 111.86h-2.7M52.60 118.82h2.7M324.50 118.82h-2.7M52.60 125.78h2.7M324.50 125.78h-2.7M52.60 132.74h2.7M324.50 132.74h-2.7M52.60 139.70h2.7M324.50 139.70h-2.7M52.60 146.66h2.7M324.50 146.66h-2.7M52.60 153.62h2.7M324.50 153.62h-2.7M52.60 160.58h2.7M324.50 160.58h-2.7M52.60 167.54h2.7M324.50 167.54h-2.7M52.60 174.50h5.3M324.50 174.50h-5.3M52.60 181.46h2.7M324.50 181.46h-2.7M52.60 188.42h2.7M324.50 188.42h-2.7M52.60 195.38h2.7M324.50 195.38h-2.7M52.60 202.34h2.7M324.50 202.34h-2.7M52.60 209.30h2.7M324.50 209.30h-2.7M52.60 216.26h2.7M324.50 216.26h-2.7M52.60 223.22h2.7M324.50 223.22h-2.7M52.60 230.18h2.7M324.50 230.18h-2.7M52.60 237.14h2.7M324.50 237.14h-2.7M52.60 244.10h5.3M324.50 244.10h-5.3M52.60 251.06h2.7M324.50 251.06h-2.7M52.60 258.02h2.7M324.50 258.02h-2.7M52.60 264.98h2.7M324.50 264.98h-2.7M52.60 271.94h2.7M324.50 271.94h-2.7M52.60 278.90h2.7M324.50 278.90h-2.7M52.60 285.86h2.7M324.50 285.86h-2.7M52.60 292.82h2.7M324.50 292.82h-2.7M52.60 299.78h2.7M324.50 299.78h-2.7M52.60 306.74h2.7M324.50 306.74h-2.7M52.60 313.70h5.3M324.50 313.70h-5.3M52.60 320.66h2.7M324.50 320.66h-2.7M52.60 327.62h2.7M324.50 327.62h-2.7M52.60 334.58h2.7M324.50 334.58h-2.7M52.60 341.54h2.7M324.50 341.54h-2.7M52.60 348.50h2.7M324.50 348.50h-2.7M52.60 355.46h2.7M324.50 355.46h-2.7M52.60 362.42h2.7M324.50 362.42h-2.7M52.60 369.38h2.7M324.50 369.38h-2.7M52.60 376.34h2.7M324.50 376.34h-2.7M52.60 383.30h5.3M324.50 383.30h-5.3" stroke="#000" stroke-width="1.25" fill="none"/>
<text x="52.60" y="403.50" text-anchor="middle" font-size="16.1" font-family="Liberation Sans, sans-serif" stroke="#000" stroke-width="0.25">−20</text>
<text x="88.85" y="403.50" text-anchor="middle" font-size="16.1" font-family="Liberation Sans, sans-serif" stroke="#000" stroke-width="0.25">0</text>
<text x="125.11" y="403.50" text-anchor="middle" font-size="16.1" font-family="Liberation Sans, sans-serif" stroke="#000" stroke-width="0.25">20</text>
<text x="161.36" y="403.50" text-anchor="middle" font-size="16.1" font-family="Liberation Sans, sans-serif" stroke="#000" stroke-width="0.25">40</text>
<text x="197.61" y="403.50" text-anchor="middle" font-size="16.1" font-family="Liberation Sans, sans-serif" stroke="#000" stroke-width="0.25">60</text>
<text x="233.87" y="403.50" text-anchor="middle" font-size="16.1" font-family="Liberation Sans, sans-serif" stroke="#000" stroke-width="0.25">80</text>
<text x="270.12" y="403.50" text-anchor="middle" font-size="16.1" font-family="Liberation Sans, sans-serif" stroke="#000" stroke-width="0.25">100</text>
<text x="306.37" y="403.50" text-anchor="middle" font-size="16.1" font-family="Liberation Sans, sans-serif" stroke="#000" stroke-width="0.25">120</text>
<text x="47.90" y="40.90" text-anchor="end" font-size="16.1" font-family="Liberation Sans, sans-serif" stroke="#000" stroke-width="0.25">0</text>
<text x="47.90" y="110.50" text-anchor="end" font-size="16.1" font-family="Liberation Sans, sans-serif" stroke="#000" stroke-width="0.25">1</text>
<text x="47.90" y="180.10" text-anchor="end" font-size="16.1" font-family="Liberation Sans, sans-serif" stroke="#000" stroke-width="0.25">2</text>
<text x="47.90" y="249.70" text-anchor="end" font-size="16.1" font-family="Liberation Sans, sans-serif" stroke="#000" stroke-width="0.25">3</text>
<text x="47.90" y="319.30" text-anchor="end" font-size="16.1" font-family="Liberation Sans, sans-serif" stroke="#000" stroke-width="0.25">4</text>
<text x="47.90" y="383.90" text-anchor="end" font-size="16.1" font-family="Liberation Sans, sans-serif" stroke="#000" stroke-width="0.25">5</text>
<rect x="358.50" y="0.50" width="271.90" height="382.80" fill="none" stroke="#000" stroke-width="1.25"/>
<path d="M358.50 383.30v-7.4M358.50 0.50v7.4M367.56 383.30v-3.7M367.56 0.50v3.7M376.63 383.30v-3.7M376.63 0.50v3.7M385.69 383.30v-3.7M385.69 0.50v3.7M394.75 383.30v-7.4M394.75 0.50v7.4M403.82 383.30v-3.7M403.82 0.50v3.7M412.88 383.30v-3.7M412.88 0.50v3.7M421.94 383.30v-3.7M421.94 0.50v3.7M431.01 383.30v-7.4M431.01 0.50v7.4M440.07 383.30v-3.7M440.07 0.50v3.7M449.13 383.30v-3.7M449.13 0.50v3.7M458.20 383.30v-3.7M458.20 0.50v3.7M467.26 383.30v-7.4M467.26 0.50v7.4M476.32 383.30v-3.7M476.32 0.50v3.7M485.39 383.30v-3.7M485.39 0.50v3.7M494.45 383.30v-3.7M494.45 0.50v3.7M503.51 383.30v-7.4M503.51 0.50v7.4M512.58 383.30v-3.7M512.58 0.50v3.7M521.64 383.30v-3.7M521.64 0.50v3.7M530.70 383.30v-3.7M530.70 0.50v3.7M539.77 383.30v-7.4M539.77 0.50v7.4M548.83 383.30v-3.7M548.83 0.50v3.7M557.89 383.30v-3.7M557.89 0.50v3.7M566.96 383.30v-3.7M566.96 0.50v3.7M576.02 383.30v-7.4M576.02 0.50v7.4M585.08 383.30v-3.7M585.08 0.50v3.7M594.15 383.30v-3.7M594.15 0.50v3.7M603.21 383.30v-3.7M603.21 0.50v3.7M612.27 383.30v-7.4M612.27 0.50v7.4M621.34 383.30v-3.7M621.34 0.50v3.7M630.40 383.30v-3.7M630.40 0.50v3.7M358.50 0.50h2.7M630.40 0.50h-2.7M358.50 7.46h2.7M630.40 7.46h-2.7M358.50 14.42h2.7M630.40 14.42h-2.7M358.50 21.38h2.7M630.40 21.38h-2.7M358.50 28.34h2.7M630.40 28.34h-2.7M358.50 35.30h5.3M630.40 35.30h-5.3M358.50 42.26h2.7M630.40 42.26h-2.7M358.50 49.22h2.7M630.40 49.22h-2.7M358.50 56.18h2.7M630.40 56.18h-2.7M358.50 63.14h2.7M630.40 63.14h-2.7M358.50 70.10h2.7M630.40 70.10h-2.7M358.50 77.06h2.7M630.40 77.06h-2.7M358.50 84.02h2.7M630.40 84.02h-2.7M358.50 90.98h2.7M630.40 90.98h-2.7M358.50 97.94h2.7M630.40 97.94h-2.7M358.50 104.90h5.3M630.40 104.90h-5.3M358.50 111.86h2.7M630.40 111.86h-2.7M358.50 118.82h2.7M630.40 118.82h-2.7M358.50 125.78h2.7M630.40 125.78h-2.7M358.50 132.74h2.7M630.40 132.74h-2.7M358.50 139.70h2.7M630.40 139.70h-2.7M358.50 146.66h2.7M630.40 146.66h-2.7M358.50 153.62h2.7M630.40 153.62h-2.7M358.50 160.58h2.7M630.40 160.58h-2.7M358.50 167.54h2.7M630.40 167.54h-2.7M358.50 174.50h5.3M630.40 174.50h-5.3M358.50 181.46h2.7M630.40 181.46h-2.7M358.50 188.42h2.7M630.40 188.42h-2.7M358.50 195.38h2.7M630.40 195.38h-2.7M358.50 202.34h2.7M630.40 202.34h-2.7M358.50 209.30h2.7M630.40 209.30h-2.7M358.50 216.26h2.7M630.40 216.26h-2.7M358.50 223.22h2.7M630.40 223.22h-2.7M358.50 230.18h2.7M630.40 230.18h-2.7M358.50 237.14h2.7M630.40 237.14h-2.7M358.50 244.10h5.3M630.40 244.10h-5.3M358.50 251.06h2.7M630.40 251.06h-2.7M358.50 258.02h2.7M630.40 258.02h-2.7M358.50 264.98h2.7M630.40 264.98h-2.7M358.50 271.94h2.7M630.40 271.94h-2.7M358.50 278.90h2.7M630.40 278.90h-2.7M358.50 285.86h2.7M630.40 285.86h-2.7M358.50 292.82h2.7M630.40 292.82h-2.7M358.50 299.78h2.7M630.40 299.78h-2.7M358.50 306.74h2.7M630.40 306.74h-2.7M358.50 313.70h5.3M630.40 313.70h-5.3M358.50 320.66h2.7M630.40 320.66h-2.7M358.50 327.62h2.7M630.40 327.62h-2.7M358.50 334.58h2.7M630.40 334.58h-2.7M358.50 341.54h2.7M630.40 341.54h-2.7M358.50 348.50h2.7M630.40 348.50h-2.7M358.50 355.46h2.7M630.40 355.46h-2.7M358.50 362.42h2.7M630.40 362.42h-2.7M358.50 369.38h2.7M630.40 369.38h-2.7M358.50 376.34h2.7M630.40 376.34h-2.7M358.50 383.30h5.3M630.40 383.30h-5.3" stroke="#000" stroke-width="1.25" fill="none"/>
<text x="358.50" y="403.50" text-anchor="middle" font-size="16.1" font-family="Liberation Sans, sans-serif" stroke="#000" stroke-width="0.25">−20</text>
<text x="394.75" y="403.50" text-anchor="middle" font-size="16.1" font-family="Liberation Sans, sans-serif" stroke="#000" stroke-width="0.25">0</text>
<text x="431.01" y="403.50" text-anchor="middle" font-size="16.1" font-family="Liberation Sans, sans-serif" stroke="#000" stroke-width="0.25">20</text>
<text x="467.26" y="403.50" text-anchor="middle" font-size="16.1" font-family="Liberation Sans, sans-serif" stroke="#000" stroke-width="0.25">40</text>
<text x="503.51" y="403.50" text-anchor="middle" font-size="16.1" font-family="Liberation Sans, sans-serif" stroke="#000" stroke-width="0.25">60</text>
<text x="539.77" y="403.50" text-anchor="middle" font-size="16.1" font-family="Liberation Sans, sans-serif" stroke="#000" stroke-width="0.25">80</text>
<text x="576.02" y="403.50" text-anchor="middle" font-size="16.1" font-family="Liberation Sans, sans-serif" stroke="#000" stroke-width="0.25">100</text>
<text x="612.27" y="403.50" text-anchor="middle" font-size="16.1" font-family="Liberation Sans, sans-serif" stroke="#000" stroke-width="0.25">120</text>
<text x="353.80" y="40.90" text-anchor="end" font-size="16.1" font-family="Liberation Sans, sans-serif" stroke="#000" stroke-width="0.25">0</text>
<text x="353.80" y="110.50" text-anchor="end" font-size="16.1" font-family="Liberation Sans, sans-serif" stroke="#000" stroke-width="0.25">1</text>
<text x="353.80" y="180.10" text-anchor="end" font-size="16.1" font-family="Liberation Sans, sans-serif" stroke="#000" stroke-width="0.25">2</text>
<text x="353.80" y="249.70" text-anchor="end" font-size="16.1" font-family="Liberation Sans, sans-serif" stroke="#000" stroke-width="0.25">3</text>
<text x="353.80" y="319.30" text-anchor="end" font-size="16.1" font-family="Liberation Sans, sans-serif" stroke="#000" stroke-width="0.25">4</text>
<text x="353.80" y="383.90" text-anchor="end" font-size="16.1" font-family="Liberation Sans, sans-serif" stroke="#000" stroke-width="0.25">5</text>
<rect x="52.60" y="431.40" width="271.90" height="382.80" fill="none" stroke="#000" stroke-width="1.25"/>
<path d="M52.60 814.20v-7.4M52.60 431.40v7.4M61.66 814.20v-3.7M61.66 431.40v3.7M70.73 814.20v-3.7M70.73 431.40v3.7M79.79 814.20v-3.7M79.79 431.40v3.7M88.85 814.20v-7.4M88.85 431.40v7.4M97.92 814.20v-3.7M97.92 431.40v3.7M106.98 814.20v-3.7M106.98 431.40v3.7M116.04 814.20v-3.7M116.04 431.40v3.7M125.11 814.20v-7.4M125.11 431.40v7.4M134.17 814.20v-3.7M134.17 431.40v3.7M143.23 814.20v-3.7M143.23 431.40v3.7M152.30 814.20v-3.7M152.30 431.40v3.7M161.36 814.20v-7.4M161.36 431.40v7.4M170.42 814.20v-3.7M170.42 431.40v3.7M179.49 814.20v-3.7M179.49 431.40v3.7M188.55 814.20v-3.7M188.55 431.40v3.7M197.61 814.20v-7.4M197.61 431.40v7.4M206.68 814.20v-3.7M206.68 431.40v3.7M215.74 814.20v-3.7M215.74 431.40v3.7M224.80 814.20v-3.7M224.80 431.40v3.7M233.87 814.20v-7.4M233.87 431.40v7.4M242.93 814.20v-3.7M242.93 431.40v3.7M251.99 814.20v-3.7M251.99 431.40v3.7M261.06 814.20v-3.7M261.06 431.40v3.7M270.12 814.20v-7.4M270.12 431.40v7.4M279.18 814.20v-3.7M279.18 431.40v3.7M288.25 814.20v-3.7M288.25 431.40v3.7M297.31 814.20v-3.7M297.31 431.40v3.7M306.37 814.20v-7.4M306.37 431.40v7.4M315.44 814.20v-3.7M315.44 431.40v3.7M324.50 814.20v-3.7M324.50 431.40v3.7M52.60 431.40h2.7M324.50 431.40h-2.7M52.60 438.36h2.7M324.50 438.36h-2.7M52.60 445.32h2.7M324.50 445.32h-2.7M52.60 452.28h2.7M324.50 452.28h-2.7M52.60 459.24h2.7M324.50 459.24h-2.7M52.60 466.20h5.3M324.50 466.20h-5.3M52.60 473.16h2.7M324.50 473.16h-2.7M52.60 480.12h2.7M324.50 480.12h-2.7M52.60 487.08h2.7M324.50 487.08h-2.7M52.60 494.04h2.7M324.50 494.04h-2.7M52.60 501.00h2.7M324.50 501.00h-2.7M52.60 507.96h2.7M324.50 507.96h-2.7M52.60 514.92h2.7M324.50 514.92h-2.7M52.60 521.88h2.7M324.50 521.88h-2.7M52.60 528.84h2.7M324.50 528.84h-2.7M52.60 535.80h5.3M324.50 535.80h-5.3M52.60 542.76h2.7M324.50 542.76h-2.7M52.60 549.72h2.7M324.50 549.72h-2.7M52.60 556.68h2.7M324.50 556.68h-2.7M52.60 563.64h2.7M324.50 563.64h-2.7M52.60 570.60h2.7M324.50 570.60h-2.7M52.60 577.56h2.7M324.50 577.56h-2.7M52.60 584.52h2.7M324.50 584.52h-2.7M52.60 591.48h2.7M324.50 591.48h-2.7M52.60 598.44h2.7M324.50 598.44h-2.7M52.60 605.40h5.3M324.50 605.40h-5.3M52.60 612.36h2.7M324.50 612.36h-2.7M52.60 619.32h2.7M324.50 619.32h-2.7M52.60 626.28h2.7M324.50 626.28h-2.7M52.60 633.24h2.7M324.50 633.24h-2.7M52.60 640.20h2.7M324.50 640.20h-2.7M52.60 647.16h2.7M324.50 647.16h-2.7M52.60 654.12h2.7M324.50 654.12h-2.7M52.60 661.08h2.7M324.50 661.08h-2.7M52.60 668.04h2.7M324.50 668.04h-2.7M52.60 675.00h5.3M324.50 675.00h-5.3M52.60 681.96h2.7M324.50 681.96h-2.7M52.60 688.92h2.7M324.50 688.92h-2.7M52.60 695.88h2.7M324.50 695.88h-2.7M52.60 702.84h2.7M324.50 702.84h-2.7M52.60 709.80h2.7M324.50 709.80h-2.7M52.60 716.76h2.7M324.50 716.76h-2.7M52.60 723.72h2.7M324.50 723.72h-2.7M52.60 730.68h2.7M324.50 730.68h-2.7M52.60 737.64h2.7M324.50 737.64h-2.7M52.60 744.60h5.3M324.50 744.60h-5.3M52.60 751.56h2.7M324.50 751.56h-2.7M52.60 758.52h2.7M324.50 758.52h-2.7M52.60 765.48h2.7M324.50 765.48h-2.7M52.60 772.44h2.7M324.50 772.44h-2.7M52.60 779.40h2.7M324.50 779.40h-2.7M52.60 786.36h2.7M324.50 786.36h-2.7M52.60 793.32h2.7M324.50 793.32h-2.7M52.60 800.28h2.7M324.50 800.28h-2.7M52.60 807.24h2.7M324.50 807.24h-2.7M52.60 814.20h5.3M324.50 814.20h-5.3" stroke="#000" stroke-width="1.25" fill="none"/>
<text x="52.60" y="834.40" text-anchor="middle" font-size="16.1" font-family="Liberation Sans, sans-serif" stroke="#000" stroke-width="0.25">−20</text>
<text x="88.85" y="834.40" text-anchor="middle" font-size="16.1" font-family="Liberation Sans, sans-serif" stroke="#000" stroke-width="0.25">0</text>
<text x="125.11" y="834.40" text-anchor="middle" font-size="16.1" font-family="Liberation Sans, sans-serif" stroke="#000" stroke-width="0.25">20</text>
<text x="161.36" y="834.40" text-anchor="middle" font-size="16.1" font-family="Liberation Sans, sans-serif" stroke="#000" stroke-width="0.25">40</text>
<text x="197.61" y="834.40" text-anchor="middle" font-size="16.1" font-family="Liberation Sans, sans-serif" stroke="#000" stroke-width="0.25">60</text>
<text x="233.87" y="834.40" text-anchor="middle" font-size="16.1" font-family="Liberation Sans, sans-serif" stroke="#000" stroke-width="0.25">80</text>
<text x="270.12" y="834.40" text-anchor="middle" font-size="16.1" font-family="Liberation Sans, sans-serif" stroke="#000" stroke-width="0.25">100</text>
<text x="306.37" y="834.40" text-anchor="middle" font-size="16.1" font-family="Liberation Sans, sans-serif" stroke="#000" stroke-width="0.25">120</text>
<text x="47.90" y="471.80" text-anchor="end" font-size="16.1" font-family="Liberation Sans, sans-serif" stroke="#000" stroke-width="0.25">0</text>
<text x="47.90" y="541.40" text-anchor="end" font-size="16.1" font-family="Liberation Sans, sans-serif" stroke="#000" stroke-width="0.25">1</text>
<text x="47.90" y="611.00" text-anchor="end" font-size="16.1" font-family="Liberation Sans, sans-serif" stroke="#000" stroke-width="0.25">2</text>
<text x="47.90" y="680.60" text-anchor="end" font-size="16.1" font-family="Liberation Sans, sans-serif" stroke="#000" stroke-width="0.25">3</text>
<text x="47.90" y="750.20" text-anchor="end" font-size="16.1" font-family="Liberation Sans, sans-serif" stroke="#000" stroke-width="0.25">4</text>
<text x="47.90" y="814.80" text-anchor="end" font-size="16.1" font-family="Liberation Sans, sans-serif" stroke="#000" stroke-width="0.25">5</text>
<rect x="358.50" y="431.40" width="271.90" height="382.80" fill="none" stroke="#000" stroke-width="1.25"/>
<path d="M358.50 814.20v-7.4M358.50 431.40v7.4M367.56 814.20v-3.7M367.56 431.40v3.7M376.63 814.20v-3.7M376.63 431.40v3.7M385.69 814.20v-3.7M385.69 431.40v3.7M394.75 814.20v-7.4M394.75 431.40v7.4M403.82 814.20v-3.7M403.82 431.40v3.7M412.88 814.20v-3.7M412.88 431.40v3.7M421.94 814.20v-3.7M421.94 431.40v3.7M431.01 814.20v-7.4M431.01 431.40v7.4M440.07 814.20v-3.7M440.07 431.40v3.7M449.13 814.20v-3.7M449.13 431.40v3.7M458.20 814.20v-3.7M458.20 431.40v3.7M467.26 814.20v-7.4M467.26 431.40v7.4M476.32 814.20v-3.7M476.32 431.40v3.7M485.39 814.20v-3.7M485.39 431.40v3.7M494.45 814.20v-3.7M494.45 431.40v3.7M503.51 814.20v-7.4M503.51 431.40v7.4M512.58 814.20v-3.7M512.58 431.40v3.7M521.64 814.20v-3.7M521.64 431.40v3.7M530.70 814.20v-3.7M530.70 431.40v3.7M539.77 814.20v-7.4M539.77 431.40v7.4M548.83 814.20v-3.7M548.83 431.40v3.7M557.89 814.20v-3.7M557.89 431.40v3.7M566.96 814.20v-3.7M566.96 431.40v3.7M576.02 814.20v-7.4M576.02 431.40v7.4M585.08 814.20v-3.7M585.08 431.40v3.7M594.15 814.20v-3.7M594.15 431.40v3.7M603.21 814.20v-3.7M603.21 431.40v3.7M612.27 814.20v-7.4M612.27 431.40v7.4M621.34 814.20v-3.7M621.34 431.40v3.7M630.40 814.20v-3.7M630.40 431.40v3.7M358.50 431.40h2.7M630.40 431.40h-2.7M358.50 438.36h2.7M630.40 438.36h-2.7M358.50 445.32h2.7M630.40 445.32h-2.7M358.50 452.28h2.7M630.40 452.28h-2.7M358.50 459.24h2.7M630.40 459.24h-2.7M358.50 466.20h5.3M630.40 466.20h-5.3M358.50 473.16h2.7M630.40 473.16h-2.7M358.50 480.12h2.7M630.40 480.12h-2.7M358.50 487.08h2.7M630.40 487.08h-2.7M358.50 494.04h2.7M630.40 494.04h-2.7M358.50 501.00h2.7M630.40 501.00h-2.7M358.50 507.96h2.7M630.40 507.96h-2.7M358.50 514.92h2.7M630.40 514.92h-2.7M358.50 521.88h2.7M630.40 521.88h-2.7M358.50 528.84h2.7M630.40 528.84h-2.7M358.50 535.80h5.3M630.40 535.80h-5.3M358.50 542.76h2.7M630.40 542.76h-2.7M358.50 549.72h2.7M630.40 549.72h-2.7M358.50 556.68h2.7M630.40 556.68h-2.7M358.50 563.64h2.7M630.40 563.64h-2.7M358.50 570.60h2.7M630.40 570.60h-2.7M358.50 577.56h2.7M630.40 577.56h-2.7M358.50 584.52h2.7M630.40 584.52h-2.7M358.50 591.48h2.7M630.40 591.48h-2.7M358.50 598.44h2.7M630.40 598.44h-2.7M358.50 605.40h5.3M630.40 605.40h-5.3M358.50 612.36h2.7M630.40 612.36h-2.7M358.50 619.32h2.7M630.40 619.32h-2.7M358.50 626.28h2.7M630.40 626.28h-2.7M358.50 633.24h2.7M630.40 633.24h-2.7M358.50 640.20h2.7M630.40 640.20h-2.7M358.50 647.16h2.7M630.40 647.16h-2.7M358.50 654.12h2.7M630.40 654.12h-2.7M358.50 661.08h2.7M630.40 661.08h-2.7M358.50 668.04h2.7M630.40 668.04h-2.7M358.50 675.00h5.3M630.40 675.00h-5.3M358.50 681.96h2.7M630.40 681.96h-2.7M358.50 688.92h2.7M630.40 688.92h-2.7M358.50 695.88h2.7M630.40 695.88h-2.7M358.50 702.84h2.7M630.40 702.84h-2.7M358.50 709.80h2.7M630.40 709.80h-2.7M358.50 716.76h2.7M630.40 716.76h-2.7M358.50 723.72h2.7M630.40 723.72h-2.7M358.50 730.68h2.7M630.40 730.68h-2.7M358.50 737.64h2.7M630.40 737.64h-2.7M358.50 744.60h5.3M630.40 744.60h-5.3M358.50 751.56h2.7M630.40 751.56h-2.7M358.50 758.52h2.7M630.40 758.52h-2.7M358.50 765.48h2.7M630.40 765.48h-2.7M358.50 772.44h2.7M630.40 772.44h-2.7M358.50 779.40h2.7M630.40 779.40h-2.7M358.50 786.36h2.7M630.40 786.36h-2.7M358.50 793.32h2.7M630.40 793.32h-2.7M358.50 800.28h2.7M630.40 800.28h-2.7M358.50 807.24h2.7M630.40 807.24h-2.7M358.50 814.20h5.3M630.40 814.20h-5.3" stroke="#000" stroke-width="1.25" fill="none"/>
<text x="358.50" y="834.40" text-anchor="middle" font-size="16.1" font-family="Liberation Sans, sans-serif" stroke="#000" stroke-width="0.25">−20</text>
<text x="394.75" y="834.40" text-anchor="middle" font-size="16.1" font-family="Liberation Sans, sans-serif" stroke="#000" stroke-width="0.25">0</text>
<text x="431.01" y="834.40" text-anchor="middle" font-size="16.1" font-family="Liberation Sans, sans-serif" stroke="#000" stroke-width="0.25">20</text>
<text x="467.26" y="834.40" text-anchor="middle" font-size="16.1" font-family="Liberation Sans, sans-serif" stroke="#000" stroke-width="0.25">40</text>
<text x="503.51" y="834.40" text-anchor="middle" font-size="16.1" font-family="Liberation Sans, sans-serif" stroke="#000" stroke-width="0.25">60</text>
<text x="539.77" y="834.40" text-anchor="middle" font-size="16.1" font-family="Liberation Sans, sans-serif" stroke="#000" stroke-width="0.25">80</text>
<text x="576.02" y="834.40" text-anchor="middle" font-size="16.1" font-family="Liberation Sans, sans-serif" stroke="#000" stroke-width="0.25">100</text>
<text x="612.27" y="834.40" text-anchor="middle" font-size="16.1" font-family="Liberation Sans, sans-serif" stroke="#000" stroke-width="0.25">120</text>
<text x="353.80" y="471.80" text-anchor="end" font-size="16.1" font-family="Liberation Sans, sans-serif" stroke="#000" stroke-width="0.25">0</text>
<text x="353.80" y="541.40" text-anchor="end" font-size="16.1" font-family="Liberation Sans, sans-serif" stroke="#000" stroke-width="0.25">1</text>
<text x="353.80" y="611.00" text-anchor="end" font-size="16.1" font-family="Liberation Sans, sans-serif" stroke="#000" stroke-width="0.25">2</text>
<text x="353.80" y="680.60" text-anchor="end" font-size="16.1" font-family="Liberation Sans, sans-serif" stroke="#000" stroke-width="0.25">3</text>
<text x="353.80" y="750.20" text-anchor="end" font-size="16.1" font-family="Liberation Sans, sans-serif" stroke="#000" stroke-width="0.25">4</text>
<text x="353.80" y="814.80" text-anchor="end" font-size="16.1" font-family="Liberation Sans, sans-serif" stroke="#000" stroke-width="0.25">5</text>
<path fill="#0000ff" d="M394.7,219.5 396.1,223.0 399.8,223.2 396.9,225.6 397.9,229.3 394.7,227.2 391.5,229.3 392.5,225.6 389.6,223.2 393.3,223.0Z"/>
<text x="405.2" y="230.2" font-size="16.1" font-family="Liberation Sans, sans-serif" stroke="#000" stroke-width="0.25">11fe</text>
<path fill="none" stroke="#ff2828" stroke-width="0.95" d="M394.7 247.7L399.2 252.2L394.7 256.7L390.2 252.2Z"/>
<text x="405.2" y="257.9" font-size="16.1" font-family="Liberation Sans, sans-serif" stroke="#000" stroke-width="0.25">05cf</text>
<path fill="none" stroke="#ffa520" stroke-width="0.85" d="M390.3 280.0h8.8M394.7 275.6v8.8M391.6 276.9l6.2 6.2M391.6 283.1l6.2 -6.2"/>
<text x="405.2" y="285.7" font-size="16.1" font-family="Liberation Sans, sans-serif" stroke="#000" stroke-width="0.25">03du</text>
<path fill="none" stroke="#ff44ff" stroke-width="0.9" d="M390.2 311.5L399.2 311.5L394.7 303.3Z"/>
<text x="405.2" y="313.5" font-size="16.1" font-family="Liberation Sans, sans-serif" stroke="#000" stroke-width="0.25">01el</text>
<path fill="none" stroke="#7ab87a" stroke-width="0.8" d="M390.4 331.3h8.6v8.6h-8.6Z"/>
<text x="405.2" y="341.3" font-size="16.1" font-family="Liberation Sans, sans-serif" stroke="#000" stroke-width="0.25">02dj</text>
<path fill="#a0522d" d="M390.2 367.1L399.2 367.1L394.7 358.9Z"/>
<text x="405.2" y="369.1" font-size="16.1" font-family="Liberation Sans, sans-serif" stroke="#000" stroke-width="0.25">04S</text>
<path fill="none" stroke="#3ee03e" stroke-width="1.1" d="M463.1 275.7l8.6 8.6M463.1 284.3l8.6 -8.6"/>
<text x="478.4" y="285.7" font-size="16.1" font-family="Liberation Sans, sans-serif" stroke="#000" stroke-width="0.25">12fr</text>
<path fill="#ff1493" d="M463.1 303.5h8.6v8.6h-8.6Z"/>
<text x="478.4" y="313.5" font-size="16.1" font-family="Liberation Sans, sans-serif" stroke="#000" stroke-width="0.25">12cg</text>
<path fill="#a020f0" d="M462.9 331.9L471.9 331.9L467.4 340.1Z"/>
<text x="478.4" y="341.3" font-size="16.1" font-family="Liberation Sans, sans-serif" stroke="#000" stroke-width="0.25">14J</text>
<path fill="#000000" d="M463.2 363.4a4.15 4.15 0 1 0 8.30 0a4.15 4.15 0 1 0 -8.30 0Z"/>
<text x="478.4" y="369.1" font-size="16.1" font-family="Liberation Sans, sans-serif" stroke="#000" stroke-width="0.25">17cbv</text>
<text x="288.5" y="35.3" font-size="16.1" font-family="Liberation Sans, sans-serif" stroke="#000" stroke-width="0.25">B</text>
<text x="594.0" y="35.4" font-size="16.1" font-family="Liberation Sans, sans-serif" stroke="#000" stroke-width="0.25">V</text>
<text x="288.9" y="463.9" font-size="16.1" font-family="Liberation Sans, sans-serif" stroke="#000" stroke-width="0.25">R</text>
<text x="594.2" y="462.6" font-size="16.1" font-family="Liberation Sans, sans-serif" stroke="#000" stroke-width="0.25">I</text>
<text transform="translate(11.3,393.5) rotate(-90)" text-anchor="middle" font-size="16.1" font-family="Liberation Sans, sans-serif" stroke="#000" stroke-width="0.25">Magnitude</text>
<text x="324.4" y="861.6" text-anchor="middle" font-size="16.1" font-family="Liberation Sans, sans-serif" stroke="#000" stroke-width="0.25">Days since B band maximum</text>
<line x1="70.6" y1="330.3" x2="97.8" y2="330.3" stroke="#ffff00" stroke-width="1.5"/>
<text x="103.6" y="335.7" font-size="16.1" font-family="Liberation Sans, sans-serif" stroke="#000" stroke-width="0.25">decay rate β by</text>
<text x="76.2" y="372.3" font-size="16.1" font-family="Liberation Sans, sans-serif" stroke="#000" stroke-width="0.25">fitting to data ranging 40−90 d</text></svg></body></html>
